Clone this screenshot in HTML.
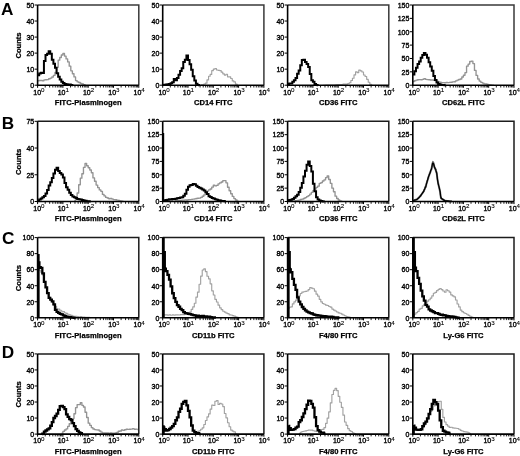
<!DOCTYPE html>
<html><head><meta charset="utf-8"><title>Flow cytometry histograms</title>
<style>html,body{margin:0;padding:0;background:#fff;width:520px;height:456px;overflow:hidden}
svg{display:block;font-family:'Liberation Sans', Arial, Helvetica, sans-serif;fill:#000}
text{fill:#000}
.t{stroke:#000;stroke-width:0.35px}
.b{stroke:#000;stroke-width:0.25px}</style></head>
<body>
<svg width="520" height="456" viewBox="0 0 520 456">
<rect width="520" height="456" fill="#fff"/>
<g><path d="M37.60,5.00 H138.80 V85.20" fill="none" stroke="#3a3a3a" stroke-width="1.5"/><path d="M37.60,80.76 L39.18,80.76 L39.18,80.53 L40.76,80.53 L40.76,80.50 L42.34,80.50 L42.34,80.74 L43.93,80.74 L43.93,79.89 L45.51,79.89 L45.51,79.70 L47.09,79.70 L47.09,79.58 L48.67,79.58 L48.67,78.70 L50.25,78.70 L50.25,78.08 L51.83,78.08 L51.83,76.99 L53.41,76.99 L53.41,75.43 L54.99,75.43 L54.99,72.49 L56.58,72.49 L56.58,67.32 L58.16,67.32 L58.16,60.16 L59.74,60.16 L59.74,57.45 L61.32,57.45 L61.32,54.99 L62.90,54.99 L62.90,53.51 L64.48,53.51 L64.48,56.12 L66.06,56.12 L66.06,58.92 L67.64,58.92 L67.64,61.91 L69.22,61.91 L69.22,66.19 L70.81,66.19 L70.81,70.82 L72.39,70.82 L72.39,73.79 L73.97,73.79 L73.97,76.89 L75.55,76.89 L75.55,80.62 L77.13,80.62 L77.13,81.84 L78.71,81.84 L78.71,82.48 L80.29,82.48 L80.29,83.39 L81.88,83.39 L81.88,84.01 L83.46,84.01 L83.46,84.66 L85.04,84.66 L85.04,85.00 L85.67,85.00" fill="none" stroke="#939393" stroke-width="1.35" stroke-linejoin="round"/><path d="M37.60,75.32 L39.18,75.32 L39.18,73.47 L40.76,73.47 L40.76,72.67 L42.34,72.67 L42.34,72.90 L43.93,72.90 L43.93,60.94 L45.51,60.94 L45.51,55.03 L47.09,55.03 L47.09,53.70 L48.67,53.70 L48.67,51.15 L50.25,51.15 L50.25,53.68 L51.83,53.68 L51.83,59.83 L53.41,59.83 L53.41,63.87 L54.99,63.87 L54.99,67.80 L56.58,67.80 L56.58,73.24 L58.16,73.24 L58.16,76.71 L59.74,76.71 L59.74,79.38 L61.32,79.38 L61.32,81.82 L62.90,81.82 L62.90,82.94 L64.48,82.94 L64.48,83.88 L66.06,83.88 L66.06,84.16 L67.64,84.16 L67.64,84.52 L69.22,84.52 L69.22,84.56 L70.81,84.56 L70.81,84.91 L72.39,84.91 L72.39,85.13 L73.02,85.13" fill="none" stroke="#000" stroke-width="2.0" stroke-linejoin="miter" stroke-miterlimit="2"/><path d="M37.60,5.00 V85.20 H138.80" fill="none" stroke="#000" stroke-width="1.6"/><line x1="34.60" y1="85.20" x2="37.60" y2="85.20" stroke="#000" stroke-width="1"/><text class="t" x="34.20" y="88.00" font-size="7" text-anchor="end">0</text><line x1="34.60" y1="69.16" x2="37.60" y2="69.16" stroke="#000" stroke-width="1"/><text class="t" x="34.20" y="71.96" font-size="7" text-anchor="end">10</text><line x1="34.60" y1="53.12" x2="37.60" y2="53.12" stroke="#000" stroke-width="1"/><text class="t" x="34.20" y="55.92" font-size="7" text-anchor="end">20</text><line x1="34.60" y1="37.08" x2="37.60" y2="37.08" stroke="#000" stroke-width="1"/><text class="t" x="34.20" y="39.88" font-size="7" text-anchor="end">30</text><line x1="34.60" y1="21.04" x2="37.60" y2="21.04" stroke="#000" stroke-width="1"/><text class="t" x="34.20" y="23.84" font-size="7" text-anchor="end">40</text><line x1="34.60" y1="5.00" x2="37.60" y2="5.00" stroke="#000" stroke-width="1"/><text class="t" x="34.20" y="7.80" font-size="7" text-anchor="end">50</text><line x1="37.60" y1="85.20" x2="37.60" y2="87.80" stroke="#000" stroke-width="1"/><text class="t" x="38.90" y="94.50" font-size="7" text-anchor="middle">10<tspan font-size="6.2" dy="-2.6" style="stroke-width:0.1px">0</tspan></text><line x1="45.22" y1="85.20" x2="45.22" y2="87.50" stroke="#000" stroke-width="0.9"/><line x1="49.67" y1="85.20" x2="49.67" y2="87.50" stroke="#000" stroke-width="0.9"/><line x1="52.83" y1="85.20" x2="52.83" y2="87.50" stroke="#000" stroke-width="0.9"/><line x1="55.28" y1="85.20" x2="55.28" y2="87.50" stroke="#000" stroke-width="0.9"/><line x1="57.29" y1="85.20" x2="57.29" y2="87.50" stroke="#000" stroke-width="0.9"/><line x1="58.98" y1="85.20" x2="58.98" y2="87.50" stroke="#000" stroke-width="0.9"/><line x1="60.45" y1="85.20" x2="60.45" y2="87.50" stroke="#000" stroke-width="0.9"/><line x1="61.74" y1="85.20" x2="61.74" y2="87.50" stroke="#000" stroke-width="0.9"/><line x1="62.90" y1="85.20" x2="62.90" y2="87.80" stroke="#000" stroke-width="1"/><text class="t" x="63.30" y="94.50" font-size="7" text-anchor="middle">10<tspan font-size="6.2" dy="-2.6" style="stroke-width:0.1px">1</tspan></text><line x1="70.52" y1="85.20" x2="70.52" y2="87.50" stroke="#000" stroke-width="0.9"/><line x1="74.97" y1="85.20" x2="74.97" y2="87.50" stroke="#000" stroke-width="0.9"/><line x1="78.13" y1="85.20" x2="78.13" y2="87.50" stroke="#000" stroke-width="0.9"/><line x1="80.58" y1="85.20" x2="80.58" y2="87.50" stroke="#000" stroke-width="0.9"/><line x1="82.59" y1="85.20" x2="82.59" y2="87.50" stroke="#000" stroke-width="0.9"/><line x1="84.28" y1="85.20" x2="84.28" y2="87.50" stroke="#000" stroke-width="0.9"/><line x1="85.75" y1="85.20" x2="85.75" y2="87.50" stroke="#000" stroke-width="0.9"/><line x1="87.04" y1="85.20" x2="87.04" y2="87.50" stroke="#000" stroke-width="0.9"/><line x1="88.20" y1="85.20" x2="88.20" y2="87.80" stroke="#000" stroke-width="1"/><text class="t" x="88.60" y="94.50" font-size="7" text-anchor="middle">10<tspan font-size="6.2" dy="-2.6" style="stroke-width:0.1px">2</tspan></text><line x1="95.82" y1="85.20" x2="95.82" y2="87.50" stroke="#000" stroke-width="0.9"/><line x1="100.27" y1="85.20" x2="100.27" y2="87.50" stroke="#000" stroke-width="0.9"/><line x1="103.43" y1="85.20" x2="103.43" y2="87.50" stroke="#000" stroke-width="0.9"/><line x1="105.88" y1="85.20" x2="105.88" y2="87.50" stroke="#000" stroke-width="0.9"/><line x1="107.89" y1="85.20" x2="107.89" y2="87.50" stroke="#000" stroke-width="0.9"/><line x1="109.58" y1="85.20" x2="109.58" y2="87.50" stroke="#000" stroke-width="0.9"/><line x1="111.05" y1="85.20" x2="111.05" y2="87.50" stroke="#000" stroke-width="0.9"/><line x1="112.34" y1="85.20" x2="112.34" y2="87.50" stroke="#000" stroke-width="0.9"/><line x1="113.50" y1="85.20" x2="113.50" y2="87.80" stroke="#000" stroke-width="1"/><text class="t" x="113.90" y="94.50" font-size="7" text-anchor="middle">10<tspan font-size="6.2" dy="-2.6" style="stroke-width:0.1px">3</tspan></text><line x1="121.12" y1="85.20" x2="121.12" y2="87.50" stroke="#000" stroke-width="0.9"/><line x1="125.57" y1="85.20" x2="125.57" y2="87.50" stroke="#000" stroke-width="0.9"/><line x1="128.73" y1="85.20" x2="128.73" y2="87.50" stroke="#000" stroke-width="0.9"/><line x1="131.18" y1="85.20" x2="131.18" y2="87.50" stroke="#000" stroke-width="0.9"/><line x1="133.19" y1="85.20" x2="133.19" y2="87.50" stroke="#000" stroke-width="0.9"/><line x1="134.88" y1="85.20" x2="134.88" y2="87.50" stroke="#000" stroke-width="0.9"/><line x1="136.35" y1="85.20" x2="136.35" y2="87.50" stroke="#000" stroke-width="0.9"/><line x1="137.64" y1="85.20" x2="137.64" y2="87.50" stroke="#000" stroke-width="0.9"/><line x1="138.80" y1="85.20" x2="138.80" y2="87.80" stroke="#000" stroke-width="1"/><text class="t" x="139.20" y="94.50" font-size="7" text-anchor="middle">10<tspan font-size="6.2" dy="-2.6" style="stroke-width:0.1px">4</tspan></text><text x="88.20" y="104.90" class="b" font-size="7.6" font-weight="bold" text-anchor="middle">FITC-Plasminogen</text><text transform="translate(21.2,45.50) rotate(-90)" class="b" font-size="7.6" font-weight="bold" text-anchor="middle">Counts</text></g>
<g><path d="M162.70,5.00 H263.90 V85.20" fill="none" stroke="#3a3a3a" stroke-width="1.5"/><path d="M200.65,84.87 L202.23,84.87 L202.23,84.79 L203.81,84.79 L203.81,84.04 L205.39,84.04 L205.39,83.17 L206.97,83.17 L206.97,79.82 L208.56,79.82 L208.56,76.29 L210.14,76.29 L210.14,74.41 L211.72,74.41 L211.72,70.64 L213.30,70.64 L213.30,69.13 L214.88,69.13 L214.88,68.49 L216.46,68.49 L216.46,70.01 L218.04,70.01 L218.04,70.30 L219.62,70.30 L219.62,70.59 L221.21,70.59 L221.21,72.17 L222.79,72.17 L222.79,73.85 L224.37,73.85 L224.37,75.08 L225.95,75.08 L225.95,74.27 L227.53,74.27 L227.53,76.81 L229.11,76.81 L229.11,76.88 L230.69,76.88 L230.69,78.51 L232.27,78.51 L232.27,80.90 L233.86,80.90 L233.86,81.94 L235.44,81.94 L235.44,84.15 L237.02,84.15 L237.02,85.10 L237.84,85.10" fill="none" stroke="#a2a2a2" stroke-width="1.15" stroke-linejoin="round"/><path d="M162.70,84.91 L164.28,84.91 L164.28,84.76 L165.86,84.76 L165.86,84.39 L167.44,84.39 L167.44,84.23 L169.02,84.23 L169.02,84.10 L170.61,84.10 L170.61,83.24 L172.19,83.24 L172.19,82.37 L173.77,82.37 L173.77,78.94 L175.35,78.94 L175.35,80.17 L176.93,80.17 L176.93,78.03 L178.51,78.03 L178.51,74.83 L180.09,74.83 L180.09,70.93 L181.67,70.93 L181.67,68.28 L183.26,68.28 L183.26,61.89 L184.84,61.89 L184.84,59.63 L186.42,59.63 L186.42,55.46 L188.00,55.46 L188.00,60.06 L189.58,60.06 L189.58,64.14 L191.16,64.14 L191.16,69.69 L192.74,69.69 L192.74,76.13 L194.32,76.13 L194.32,80.49 L195.91,80.49 L195.91,83.83 L197.49,83.83 L197.49,84.99 L199.07,84.99 L199.07,85.20 L199.38,85.20" fill="none" stroke="#000" stroke-width="2.0" stroke-linejoin="miter" stroke-miterlimit="2"/><path d="M162.70,5.00 V85.20 H263.90" fill="none" stroke="#000" stroke-width="1.6"/><line x1="159.70" y1="85.20" x2="162.70" y2="85.20" stroke="#000" stroke-width="1"/><text class="t" x="159.30" y="88.00" font-size="7" text-anchor="end">0</text><line x1="159.70" y1="69.16" x2="162.70" y2="69.16" stroke="#000" stroke-width="1"/><text class="t" x="159.30" y="71.96" font-size="7" text-anchor="end">10</text><line x1="159.70" y1="53.12" x2="162.70" y2="53.12" stroke="#000" stroke-width="1"/><text class="t" x="159.30" y="55.92" font-size="7" text-anchor="end">20</text><line x1="159.70" y1="37.08" x2="162.70" y2="37.08" stroke="#000" stroke-width="1"/><text class="t" x="159.30" y="39.88" font-size="7" text-anchor="end">30</text><line x1="159.70" y1="21.04" x2="162.70" y2="21.04" stroke="#000" stroke-width="1"/><text class="t" x="159.30" y="23.84" font-size="7" text-anchor="end">40</text><line x1="159.70" y1="5.00" x2="162.70" y2="5.00" stroke="#000" stroke-width="1"/><text class="t" x="159.30" y="7.80" font-size="7" text-anchor="end">50</text><line x1="162.70" y1="85.20" x2="162.70" y2="87.80" stroke="#000" stroke-width="1"/><text class="t" x="164.00" y="94.50" font-size="7" text-anchor="middle">10<tspan font-size="6.2" dy="-2.6" style="stroke-width:0.1px">0</tspan></text><line x1="170.32" y1="85.20" x2="170.32" y2="87.50" stroke="#000" stroke-width="0.9"/><line x1="174.77" y1="85.20" x2="174.77" y2="87.50" stroke="#000" stroke-width="0.9"/><line x1="177.93" y1="85.20" x2="177.93" y2="87.50" stroke="#000" stroke-width="0.9"/><line x1="180.38" y1="85.20" x2="180.38" y2="87.50" stroke="#000" stroke-width="0.9"/><line x1="182.39" y1="85.20" x2="182.39" y2="87.50" stroke="#000" stroke-width="0.9"/><line x1="184.08" y1="85.20" x2="184.08" y2="87.50" stroke="#000" stroke-width="0.9"/><line x1="185.55" y1="85.20" x2="185.55" y2="87.50" stroke="#000" stroke-width="0.9"/><line x1="186.84" y1="85.20" x2="186.84" y2="87.50" stroke="#000" stroke-width="0.9"/><line x1="188.00" y1="85.20" x2="188.00" y2="87.80" stroke="#000" stroke-width="1"/><text class="t" x="188.40" y="94.50" font-size="7" text-anchor="middle">10<tspan font-size="6.2" dy="-2.6" style="stroke-width:0.1px">1</tspan></text><line x1="195.62" y1="85.20" x2="195.62" y2="87.50" stroke="#000" stroke-width="0.9"/><line x1="200.07" y1="85.20" x2="200.07" y2="87.50" stroke="#000" stroke-width="0.9"/><line x1="203.23" y1="85.20" x2="203.23" y2="87.50" stroke="#000" stroke-width="0.9"/><line x1="205.68" y1="85.20" x2="205.68" y2="87.50" stroke="#000" stroke-width="0.9"/><line x1="207.69" y1="85.20" x2="207.69" y2="87.50" stroke="#000" stroke-width="0.9"/><line x1="209.38" y1="85.20" x2="209.38" y2="87.50" stroke="#000" stroke-width="0.9"/><line x1="210.85" y1="85.20" x2="210.85" y2="87.50" stroke="#000" stroke-width="0.9"/><line x1="212.14" y1="85.20" x2="212.14" y2="87.50" stroke="#000" stroke-width="0.9"/><line x1="213.30" y1="85.20" x2="213.30" y2="87.80" stroke="#000" stroke-width="1"/><text class="t" x="213.70" y="94.50" font-size="7" text-anchor="middle">10<tspan font-size="6.2" dy="-2.6" style="stroke-width:0.1px">2</tspan></text><line x1="220.92" y1="85.20" x2="220.92" y2="87.50" stroke="#000" stroke-width="0.9"/><line x1="225.37" y1="85.20" x2="225.37" y2="87.50" stroke="#000" stroke-width="0.9"/><line x1="228.53" y1="85.20" x2="228.53" y2="87.50" stroke="#000" stroke-width="0.9"/><line x1="230.98" y1="85.20" x2="230.98" y2="87.50" stroke="#000" stroke-width="0.9"/><line x1="232.99" y1="85.20" x2="232.99" y2="87.50" stroke="#000" stroke-width="0.9"/><line x1="234.68" y1="85.20" x2="234.68" y2="87.50" stroke="#000" stroke-width="0.9"/><line x1="236.15" y1="85.20" x2="236.15" y2="87.50" stroke="#000" stroke-width="0.9"/><line x1="237.44" y1="85.20" x2="237.44" y2="87.50" stroke="#000" stroke-width="0.9"/><line x1="238.60" y1="85.20" x2="238.60" y2="87.80" stroke="#000" stroke-width="1"/><text class="t" x="239.00" y="94.50" font-size="7" text-anchor="middle">10<tspan font-size="6.2" dy="-2.6" style="stroke-width:0.1px">3</tspan></text><line x1="246.22" y1="85.20" x2="246.22" y2="87.50" stroke="#000" stroke-width="0.9"/><line x1="250.67" y1="85.20" x2="250.67" y2="87.50" stroke="#000" stroke-width="0.9"/><line x1="253.83" y1="85.20" x2="253.83" y2="87.50" stroke="#000" stroke-width="0.9"/><line x1="256.28" y1="85.20" x2="256.28" y2="87.50" stroke="#000" stroke-width="0.9"/><line x1="258.29" y1="85.20" x2="258.29" y2="87.50" stroke="#000" stroke-width="0.9"/><line x1="259.98" y1="85.20" x2="259.98" y2="87.50" stroke="#000" stroke-width="0.9"/><line x1="261.45" y1="85.20" x2="261.45" y2="87.50" stroke="#000" stroke-width="0.9"/><line x1="262.74" y1="85.20" x2="262.74" y2="87.50" stroke="#000" stroke-width="0.9"/><line x1="263.90" y1="85.20" x2="263.90" y2="87.80" stroke="#000" stroke-width="1"/><text class="t" x="264.30" y="94.50" font-size="7" text-anchor="middle">10<tspan font-size="6.2" dy="-2.6" style="stroke-width:0.1px">4</tspan></text><text x="213.30" y="104.90" class="b" font-size="7.6" font-weight="bold" text-anchor="middle">CD14 FITC</text></g>
<g><path d="M287.60,5.00 H388.80 V85.20" fill="none" stroke="#3a3a3a" stroke-width="1.5"/><path d="M323.02,85.20 L323.97,85.20 L323.97,85.20 L325.55,85.20 L325.55,85.16 L327.13,85.16 L327.13,85.10 L328.71,85.10 L328.71,85.02 L330.29,85.02 L330.29,85.01 L331.88,85.01 L331.88,85.00 L333.46,85.00 L333.46,84.96 L335.04,84.96 L335.04,84.79 L336.62,84.79 L336.62,84.63 L338.20,84.63 L338.20,84.65 L339.78,84.65 L339.78,84.69 L341.36,84.69 L341.36,84.55 L342.94,84.55 L342.94,84.10 L344.53,84.10 L344.53,84.08 L346.11,84.08 L346.11,84.11 L347.69,84.11 L347.69,83.48 L349.27,83.48 L349.27,82.72 L350.85,82.72 L350.85,80.52 L352.43,80.52 L352.43,78.26 L354.01,78.26 L354.01,74.88 L355.59,74.88 L355.59,71.85 L357.18,71.85 L357.18,72.60 L358.76,72.60 L358.76,70.18 L360.34,70.18 L360.34,70.80 L361.92,70.80 L361.92,71.97 L363.50,71.97 L363.50,75.00 L365.08,75.00 L365.08,76.53 L366.66,76.53 L366.66,79.35 L368.24,79.35 L368.24,82.27 L369.83,82.27 L369.83,84.37 L371.41,84.37 L371.41,85.01 L372.36,85.01" fill="none" stroke="#a2a2a2" stroke-width="1.15" stroke-linejoin="round"/><path d="M287.60,84.07 L289.18,84.07 L289.18,83.49 L290.76,83.49 L290.76,83.62 L292.34,83.62 L292.34,81.74 L293.93,81.74 L293.93,80.26 L295.51,80.26 L295.51,78.02 L297.09,78.02 L297.09,73.83 L298.67,73.83 L298.67,70.46 L300.25,70.46 L300.25,65.13 L301.83,65.13 L301.83,60.05 L303.41,60.05 L303.41,59.69 L304.99,59.69 L304.99,61.88 L306.58,61.88 L306.58,63.98 L308.16,63.98 L308.16,67.04 L309.74,67.04 L309.74,74.05 L311.32,74.05 L311.32,80.26 L312.90,80.26 L312.90,81.69 L314.48,81.69 L314.48,83.92 L316.06,83.92 L316.06,84.93 L317.64,84.93 L317.64,85.15 L317.96,85.15" fill="none" stroke="#000" stroke-width="2.0" stroke-linejoin="miter" stroke-miterlimit="2"/><path d="M287.60,5.00 V85.20 H388.80" fill="none" stroke="#000" stroke-width="1.6"/><line x1="284.60" y1="85.20" x2="287.60" y2="85.20" stroke="#000" stroke-width="1"/><text class="t" x="284.20" y="88.00" font-size="7" text-anchor="end">0</text><line x1="284.60" y1="69.16" x2="287.60" y2="69.16" stroke="#000" stroke-width="1"/><text class="t" x="284.20" y="71.96" font-size="7" text-anchor="end">10</text><line x1="284.60" y1="53.12" x2="287.60" y2="53.12" stroke="#000" stroke-width="1"/><text class="t" x="284.20" y="55.92" font-size="7" text-anchor="end">20</text><line x1="284.60" y1="37.08" x2="287.60" y2="37.08" stroke="#000" stroke-width="1"/><text class="t" x="284.20" y="39.88" font-size="7" text-anchor="end">30</text><line x1="284.60" y1="21.04" x2="287.60" y2="21.04" stroke="#000" stroke-width="1"/><text class="t" x="284.20" y="23.84" font-size="7" text-anchor="end">40</text><line x1="284.60" y1="5.00" x2="287.60" y2="5.00" stroke="#000" stroke-width="1"/><text class="t" x="284.20" y="7.80" font-size="7" text-anchor="end">50</text><line x1="287.60" y1="85.20" x2="287.60" y2="87.80" stroke="#000" stroke-width="1"/><text class="t" x="288.90" y="94.50" font-size="7" text-anchor="middle">10<tspan font-size="6.2" dy="-2.6" style="stroke-width:0.1px">0</tspan></text><line x1="295.22" y1="85.20" x2="295.22" y2="87.50" stroke="#000" stroke-width="0.9"/><line x1="299.67" y1="85.20" x2="299.67" y2="87.50" stroke="#000" stroke-width="0.9"/><line x1="302.83" y1="85.20" x2="302.83" y2="87.50" stroke="#000" stroke-width="0.9"/><line x1="305.28" y1="85.20" x2="305.28" y2="87.50" stroke="#000" stroke-width="0.9"/><line x1="307.29" y1="85.20" x2="307.29" y2="87.50" stroke="#000" stroke-width="0.9"/><line x1="308.98" y1="85.20" x2="308.98" y2="87.50" stroke="#000" stroke-width="0.9"/><line x1="310.45" y1="85.20" x2="310.45" y2="87.50" stroke="#000" stroke-width="0.9"/><line x1="311.74" y1="85.20" x2="311.74" y2="87.50" stroke="#000" stroke-width="0.9"/><line x1="312.90" y1="85.20" x2="312.90" y2="87.80" stroke="#000" stroke-width="1"/><text class="t" x="313.30" y="94.50" font-size="7" text-anchor="middle">10<tspan font-size="6.2" dy="-2.6" style="stroke-width:0.1px">1</tspan></text><line x1="320.52" y1="85.20" x2="320.52" y2="87.50" stroke="#000" stroke-width="0.9"/><line x1="324.97" y1="85.20" x2="324.97" y2="87.50" stroke="#000" stroke-width="0.9"/><line x1="328.13" y1="85.20" x2="328.13" y2="87.50" stroke="#000" stroke-width="0.9"/><line x1="330.58" y1="85.20" x2="330.58" y2="87.50" stroke="#000" stroke-width="0.9"/><line x1="332.59" y1="85.20" x2="332.59" y2="87.50" stroke="#000" stroke-width="0.9"/><line x1="334.28" y1="85.20" x2="334.28" y2="87.50" stroke="#000" stroke-width="0.9"/><line x1="335.75" y1="85.20" x2="335.75" y2="87.50" stroke="#000" stroke-width="0.9"/><line x1="337.04" y1="85.20" x2="337.04" y2="87.50" stroke="#000" stroke-width="0.9"/><line x1="338.20" y1="85.20" x2="338.20" y2="87.80" stroke="#000" stroke-width="1"/><text class="t" x="338.60" y="94.50" font-size="7" text-anchor="middle">10<tspan font-size="6.2" dy="-2.6" style="stroke-width:0.1px">2</tspan></text><line x1="345.82" y1="85.20" x2="345.82" y2="87.50" stroke="#000" stroke-width="0.9"/><line x1="350.27" y1="85.20" x2="350.27" y2="87.50" stroke="#000" stroke-width="0.9"/><line x1="353.43" y1="85.20" x2="353.43" y2="87.50" stroke="#000" stroke-width="0.9"/><line x1="355.88" y1="85.20" x2="355.88" y2="87.50" stroke="#000" stroke-width="0.9"/><line x1="357.89" y1="85.20" x2="357.89" y2="87.50" stroke="#000" stroke-width="0.9"/><line x1="359.58" y1="85.20" x2="359.58" y2="87.50" stroke="#000" stroke-width="0.9"/><line x1="361.05" y1="85.20" x2="361.05" y2="87.50" stroke="#000" stroke-width="0.9"/><line x1="362.34" y1="85.20" x2="362.34" y2="87.50" stroke="#000" stroke-width="0.9"/><line x1="363.50" y1="85.20" x2="363.50" y2="87.80" stroke="#000" stroke-width="1"/><text class="t" x="363.90" y="94.50" font-size="7" text-anchor="middle">10<tspan font-size="6.2" dy="-2.6" style="stroke-width:0.1px">3</tspan></text><line x1="371.12" y1="85.20" x2="371.12" y2="87.50" stroke="#000" stroke-width="0.9"/><line x1="375.57" y1="85.20" x2="375.57" y2="87.50" stroke="#000" stroke-width="0.9"/><line x1="378.73" y1="85.20" x2="378.73" y2="87.50" stroke="#000" stroke-width="0.9"/><line x1="381.18" y1="85.20" x2="381.18" y2="87.50" stroke="#000" stroke-width="0.9"/><line x1="383.19" y1="85.20" x2="383.19" y2="87.50" stroke="#000" stroke-width="0.9"/><line x1="384.88" y1="85.20" x2="384.88" y2="87.50" stroke="#000" stroke-width="0.9"/><line x1="386.35" y1="85.20" x2="386.35" y2="87.50" stroke="#000" stroke-width="0.9"/><line x1="387.64" y1="85.20" x2="387.64" y2="87.50" stroke="#000" stroke-width="0.9"/><line x1="388.80" y1="85.20" x2="388.80" y2="87.80" stroke="#000" stroke-width="1"/><text class="t" x="389.20" y="94.50" font-size="7" text-anchor="middle">10<tspan font-size="6.2" dy="-2.6" style="stroke-width:0.1px">4</tspan></text><text x="338.20" y="104.90" class="b" font-size="7.6" font-weight="bold" text-anchor="middle">CD36 FITC</text></g>
<g><path d="M412.80,5.00 H514.00 V85.20" fill="none" stroke="#3a3a3a" stroke-width="1.5"/><path d="M412.80,81.55 L414.38,81.55 L414.38,80.72 L415.96,80.72 L415.96,80.16 L417.54,80.16 L417.54,79.74 L419.12,79.74 L419.12,79.61 L420.71,79.61 L420.71,79.71 L422.29,79.71 L422.29,79.32 L423.87,79.32 L423.87,78.75 L425.45,78.75 L425.45,79.30 L427.03,79.30 L427.03,79.66 L428.61,79.66 L428.61,79.78 L430.19,79.78 L430.19,79.95 L431.78,79.95 L431.78,80.00 L433.36,80.00 L433.36,80.23 L434.94,80.23 L434.94,80.65 L436.52,80.65 L436.52,81.13 L438.10,81.13 L438.10,81.99 L439.68,81.99 L439.68,82.21 L441.26,82.21 L441.26,82.62 L442.84,82.62 L442.84,82.63 L444.43,82.63 L444.43,82.70 L446.01,82.70 L446.01,82.50 L447.59,82.50 L447.59,82.61 L449.17,82.61 L449.17,82.35 L450.75,82.35 L450.75,82.24 L452.33,82.24 L452.33,81.92 L453.91,81.92 L453.91,81.73 L455.49,81.73 L455.49,80.80 L457.07,80.80 L457.07,80.09 L458.66,80.09 L458.66,79.48 L460.24,79.48 L460.24,78.98 L461.82,78.98 L461.82,77.04 L463.40,77.04 L463.40,75.29 L464.98,75.29 L464.98,72.64 L466.56,72.64 L466.56,66.15 L468.14,66.15 L468.14,64.06 L469.73,64.06 L469.73,61.45 L471.31,61.45 L471.31,61.06 L472.89,61.06 L472.89,63.60 L474.47,63.60 L474.47,70.41 L476.05,70.41 L476.05,75.41 L477.63,75.41 L477.63,79.03 L479.21,79.03 L479.21,81.11 L480.79,81.11 L480.79,82.31 L482.38,82.31 L482.38,83.05 L483.96,83.05 L483.96,83.88 L485.54,83.88 L485.54,84.04 L487.12,84.04 L487.12,84.36 L488.70,84.36 L488.70,84.68 L490.28,84.68 L490.28,84.83 L491.86,84.83 L491.86,85.08 L493.44,85.08 L493.44,85.20 L493.76,85.20" fill="none" stroke="#939393" stroke-width="1.35" stroke-linejoin="round"/><path d="M412.80,74.51 L414.38,74.51 L414.38,71.26 L415.96,71.26 L415.96,67.81 L417.54,67.81 L417.54,64.01 L419.12,64.01 L419.12,61.51 L420.71,61.51 L420.71,57.65 L422.29,57.65 L422.29,55.08 L423.87,55.08 L423.87,53.02 L425.45,53.02 L425.45,54.69 L427.03,54.69 L427.03,57.71 L428.61,57.71 L428.61,62.23 L430.19,62.23 L430.19,66.61 L431.78,66.61 L431.78,70.67 L433.36,70.67 L433.36,75.94 L434.94,75.94 L434.94,80.00 L436.52,80.00 L436.52,82.54 L438.10,82.54 L438.10,84.11 L439.68,84.11 L439.68,84.57 L441.26,84.57 L441.26,84.90 L442.84,84.90 L442.84,85.05 L444.43,85.05 L444.43,85.16 L445.69,85.16" fill="none" stroke="#000" stroke-width="2.0" stroke-linejoin="miter" stroke-miterlimit="2"/><path d="M412.80,5.00 V85.20 H514.00" fill="none" stroke="#000" stroke-width="1.6"/><line x1="409.80" y1="85.20" x2="412.80" y2="85.20" stroke="#000" stroke-width="1"/><text class="t" x="409.40" y="88.00" font-size="7" text-anchor="end">0</text><line x1="409.80" y1="71.83" x2="412.80" y2="71.83" stroke="#000" stroke-width="1"/><text class="t" x="409.40" y="74.63" font-size="7" text-anchor="end">25</text><line x1="409.80" y1="58.47" x2="412.80" y2="58.47" stroke="#000" stroke-width="1"/><text class="t" x="409.40" y="61.27" font-size="7" text-anchor="end">50</text><line x1="409.80" y1="45.10" x2="412.80" y2="45.10" stroke="#000" stroke-width="1"/><text class="t" x="409.40" y="47.90" font-size="7" text-anchor="end">75</text><line x1="409.80" y1="31.73" x2="412.80" y2="31.73" stroke="#000" stroke-width="1"/><text class="t" x="409.40" y="34.53" font-size="7" text-anchor="end">100</text><line x1="409.80" y1="18.37" x2="412.80" y2="18.37" stroke="#000" stroke-width="1"/><text class="t" x="409.40" y="21.17" font-size="7" text-anchor="end">125</text><line x1="409.80" y1="5.00" x2="412.80" y2="5.00" stroke="#000" stroke-width="1"/><text class="t" x="409.40" y="7.80" font-size="7" text-anchor="end">150</text><line x1="412.80" y1="85.20" x2="412.80" y2="87.80" stroke="#000" stroke-width="1"/><text class="t" x="414.10" y="94.50" font-size="7" text-anchor="middle">10<tspan font-size="6.2" dy="-2.6" style="stroke-width:0.1px">0</tspan></text><line x1="420.42" y1="85.20" x2="420.42" y2="87.50" stroke="#000" stroke-width="0.9"/><line x1="424.87" y1="85.20" x2="424.87" y2="87.50" stroke="#000" stroke-width="0.9"/><line x1="428.03" y1="85.20" x2="428.03" y2="87.50" stroke="#000" stroke-width="0.9"/><line x1="430.48" y1="85.20" x2="430.48" y2="87.50" stroke="#000" stroke-width="0.9"/><line x1="432.49" y1="85.20" x2="432.49" y2="87.50" stroke="#000" stroke-width="0.9"/><line x1="434.18" y1="85.20" x2="434.18" y2="87.50" stroke="#000" stroke-width="0.9"/><line x1="435.65" y1="85.20" x2="435.65" y2="87.50" stroke="#000" stroke-width="0.9"/><line x1="436.94" y1="85.20" x2="436.94" y2="87.50" stroke="#000" stroke-width="0.9"/><line x1="438.10" y1="85.20" x2="438.10" y2="87.80" stroke="#000" stroke-width="1"/><text class="t" x="438.50" y="94.50" font-size="7" text-anchor="middle">10<tspan font-size="6.2" dy="-2.6" style="stroke-width:0.1px">1</tspan></text><line x1="445.72" y1="85.20" x2="445.72" y2="87.50" stroke="#000" stroke-width="0.9"/><line x1="450.17" y1="85.20" x2="450.17" y2="87.50" stroke="#000" stroke-width="0.9"/><line x1="453.33" y1="85.20" x2="453.33" y2="87.50" stroke="#000" stroke-width="0.9"/><line x1="455.78" y1="85.20" x2="455.78" y2="87.50" stroke="#000" stroke-width="0.9"/><line x1="457.79" y1="85.20" x2="457.79" y2="87.50" stroke="#000" stroke-width="0.9"/><line x1="459.48" y1="85.20" x2="459.48" y2="87.50" stroke="#000" stroke-width="0.9"/><line x1="460.95" y1="85.20" x2="460.95" y2="87.50" stroke="#000" stroke-width="0.9"/><line x1="462.24" y1="85.20" x2="462.24" y2="87.50" stroke="#000" stroke-width="0.9"/><line x1="463.40" y1="85.20" x2="463.40" y2="87.80" stroke="#000" stroke-width="1"/><text class="t" x="463.80" y="94.50" font-size="7" text-anchor="middle">10<tspan font-size="6.2" dy="-2.6" style="stroke-width:0.1px">2</tspan></text><line x1="471.02" y1="85.20" x2="471.02" y2="87.50" stroke="#000" stroke-width="0.9"/><line x1="475.47" y1="85.20" x2="475.47" y2="87.50" stroke="#000" stroke-width="0.9"/><line x1="478.63" y1="85.20" x2="478.63" y2="87.50" stroke="#000" stroke-width="0.9"/><line x1="481.08" y1="85.20" x2="481.08" y2="87.50" stroke="#000" stroke-width="0.9"/><line x1="483.09" y1="85.20" x2="483.09" y2="87.50" stroke="#000" stroke-width="0.9"/><line x1="484.78" y1="85.20" x2="484.78" y2="87.50" stroke="#000" stroke-width="0.9"/><line x1="486.25" y1="85.20" x2="486.25" y2="87.50" stroke="#000" stroke-width="0.9"/><line x1="487.54" y1="85.20" x2="487.54" y2="87.50" stroke="#000" stroke-width="0.9"/><line x1="488.70" y1="85.20" x2="488.70" y2="87.80" stroke="#000" stroke-width="1"/><text class="t" x="489.10" y="94.50" font-size="7" text-anchor="middle">10<tspan font-size="6.2" dy="-2.6" style="stroke-width:0.1px">3</tspan></text><line x1="496.32" y1="85.20" x2="496.32" y2="87.50" stroke="#000" stroke-width="0.9"/><line x1="500.77" y1="85.20" x2="500.77" y2="87.50" stroke="#000" stroke-width="0.9"/><line x1="503.93" y1="85.20" x2="503.93" y2="87.50" stroke="#000" stroke-width="0.9"/><line x1="506.38" y1="85.20" x2="506.38" y2="87.50" stroke="#000" stroke-width="0.9"/><line x1="508.39" y1="85.20" x2="508.39" y2="87.50" stroke="#000" stroke-width="0.9"/><line x1="510.08" y1="85.20" x2="510.08" y2="87.50" stroke="#000" stroke-width="0.9"/><line x1="511.55" y1="85.20" x2="511.55" y2="87.50" stroke="#000" stroke-width="0.9"/><line x1="512.84" y1="85.20" x2="512.84" y2="87.50" stroke="#000" stroke-width="0.9"/><line x1="514.00" y1="85.20" x2="514.00" y2="87.80" stroke="#000" stroke-width="1"/><text class="t" x="514.40" y="94.50" font-size="7" text-anchor="middle">10<tspan font-size="6.2" dy="-2.6" style="stroke-width:0.1px">4</tspan></text><text x="463.40" y="104.90" class="b" font-size="7.6" font-weight="bold" text-anchor="middle">CD62L FITC</text></g>
<text x="1.10" y="15.30" font-size="17.2" font-weight="bold">A</text>
<g><path d="M37.60,121.30 H138.80 V201.50" fill="none" stroke="#1c1c1c" stroke-width="1.5"/><path d="M74.28,200.71 L75.55,200.71 L75.55,197.51 L77.13,197.51 L77.13,192.98 L78.71,192.98 L78.71,184.72 L80.29,184.72 L80.29,178.17 L81.88,178.17 L81.88,173.73 L83.46,173.73 L83.46,167.40 L85.04,167.40 L85.04,163.33 L86.62,163.33 L86.62,165.79 L88.20,165.79 L88.20,167.75 L89.78,167.75 L89.78,170.03 L91.36,170.03 L91.36,172.73 L92.94,172.73 L92.94,177.91 L94.53,177.91 L94.53,181.29 L96.11,181.29 L96.11,185.07 L97.69,185.07 L97.69,187.69 L99.27,187.69 L99.27,189.94 L100.85,189.94 L100.85,191.35 L102.43,191.35 L102.43,194.40 L104.01,194.40 L104.01,195.89 L105.59,195.89 L105.59,197.42 L107.18,197.42 L107.18,197.95 L108.76,197.95 L108.76,198.73 L110.34,198.73 L110.34,198.41 L111.92,198.41 L111.92,199.17 L113.50,199.17 L113.50,199.59 L115.08,199.59 L115.08,199.74 L116.66,199.74 L116.66,200.18 L118.24,200.18 L118.24,200.30 L119.83,200.30 L119.83,200.94 L121.41,200.94 L121.41,201.19 L122.99,201.19 L122.99,201.47 L123.62,201.47" fill="none" stroke="#939393" stroke-width="1.35" stroke-linejoin="round"/><path d="M37.60,200.63 L39.18,200.63 L39.18,199.60 L40.76,199.60 L40.76,198.51 L42.34,198.51 L42.34,197.18 L43.93,197.18 L43.93,195.92 L45.51,195.92 L45.51,193.49 L47.09,193.49 L47.09,189.94 L48.67,189.94 L48.67,185.51 L50.25,185.51 L50.25,182.20 L51.83,182.20 L51.83,177.93 L53.41,177.93 L53.41,173.42 L54.99,173.42 L54.99,169.73 L56.58,169.73 L56.58,167.85 L58.16,167.85 L58.16,170.89 L59.74,170.89 L59.74,172.89 L61.32,172.89 L61.32,174.54 L62.90,174.54 L62.90,177.46 L64.48,177.46 L64.48,182.96 L66.06,182.96 L66.06,187.28 L67.64,187.28 L67.64,189.86 L69.22,189.86 L69.22,192.66 L70.81,192.66 L70.81,195.12 L72.39,195.12 L72.39,196.57 L73.97,196.57 L73.97,197.19 L75.55,197.19 L75.55,197.96 L77.13,197.96 L77.13,198.88 L78.71,198.88 L78.71,199.30 L80.29,199.30 L80.29,199.58 L81.88,199.58 L81.88,199.99 L83.46,199.99 L83.46,200.39 L85.04,200.39 L85.04,200.79 L86.62,200.79 L86.62,201.17 L88.20,201.17 L88.20,201.27 L89.78,201.27 L89.78,201.45 L90.73,201.45" fill="none" stroke="#000" stroke-width="2.0" stroke-linejoin="miter" stroke-miterlimit="2"/><path d="M37.60,121.30 V201.50 H138.80" fill="none" stroke="#000" stroke-width="1.6"/><line x1="34.60" y1="201.50" x2="37.60" y2="201.50" stroke="#000" stroke-width="1"/><text class="t" x="34.20" y="204.30" font-size="7" text-anchor="end">0</text><line x1="34.60" y1="174.77" x2="37.60" y2="174.77" stroke="#000" stroke-width="1"/><text class="t" x="34.20" y="177.57" font-size="7" text-anchor="end">25</text><line x1="34.60" y1="148.03" x2="37.60" y2="148.03" stroke="#000" stroke-width="1"/><text class="t" x="34.20" y="150.83" font-size="7" text-anchor="end">40</text><line x1="34.60" y1="121.30" x2="37.60" y2="121.30" stroke="#000" stroke-width="1"/><text class="t" x="34.20" y="124.10" font-size="7" text-anchor="end">75</text><line x1="37.60" y1="201.50" x2="37.60" y2="204.10" stroke="#000" stroke-width="1"/><text class="t" x="38.90" y="210.80" font-size="7" text-anchor="middle">10<tspan font-size="6.2" dy="-2.6" style="stroke-width:0.1px">0</tspan></text><line x1="45.22" y1="201.50" x2="45.22" y2="203.80" stroke="#000" stroke-width="0.9"/><line x1="49.67" y1="201.50" x2="49.67" y2="203.80" stroke="#000" stroke-width="0.9"/><line x1="52.83" y1="201.50" x2="52.83" y2="203.80" stroke="#000" stroke-width="0.9"/><line x1="55.28" y1="201.50" x2="55.28" y2="203.80" stroke="#000" stroke-width="0.9"/><line x1="57.29" y1="201.50" x2="57.29" y2="203.80" stroke="#000" stroke-width="0.9"/><line x1="58.98" y1="201.50" x2="58.98" y2="203.80" stroke="#000" stroke-width="0.9"/><line x1="60.45" y1="201.50" x2="60.45" y2="203.80" stroke="#000" stroke-width="0.9"/><line x1="61.74" y1="201.50" x2="61.74" y2="203.80" stroke="#000" stroke-width="0.9"/><line x1="62.90" y1="201.50" x2="62.90" y2="204.10" stroke="#000" stroke-width="1"/><text class="t" x="63.30" y="210.80" font-size="7" text-anchor="middle">10<tspan font-size="6.2" dy="-2.6" style="stroke-width:0.1px">1</tspan></text><line x1="70.52" y1="201.50" x2="70.52" y2="203.80" stroke="#000" stroke-width="0.9"/><line x1="74.97" y1="201.50" x2="74.97" y2="203.80" stroke="#000" stroke-width="0.9"/><line x1="78.13" y1="201.50" x2="78.13" y2="203.80" stroke="#000" stroke-width="0.9"/><line x1="80.58" y1="201.50" x2="80.58" y2="203.80" stroke="#000" stroke-width="0.9"/><line x1="82.59" y1="201.50" x2="82.59" y2="203.80" stroke="#000" stroke-width="0.9"/><line x1="84.28" y1="201.50" x2="84.28" y2="203.80" stroke="#000" stroke-width="0.9"/><line x1="85.75" y1="201.50" x2="85.75" y2="203.80" stroke="#000" stroke-width="0.9"/><line x1="87.04" y1="201.50" x2="87.04" y2="203.80" stroke="#000" stroke-width="0.9"/><line x1="88.20" y1="201.50" x2="88.20" y2="204.10" stroke="#000" stroke-width="1"/><text class="t" x="88.60" y="210.80" font-size="7" text-anchor="middle">10<tspan font-size="6.2" dy="-2.6" style="stroke-width:0.1px">2</tspan></text><line x1="95.82" y1="201.50" x2="95.82" y2="203.80" stroke="#000" stroke-width="0.9"/><line x1="100.27" y1="201.50" x2="100.27" y2="203.80" stroke="#000" stroke-width="0.9"/><line x1="103.43" y1="201.50" x2="103.43" y2="203.80" stroke="#000" stroke-width="0.9"/><line x1="105.88" y1="201.50" x2="105.88" y2="203.80" stroke="#000" stroke-width="0.9"/><line x1="107.89" y1="201.50" x2="107.89" y2="203.80" stroke="#000" stroke-width="0.9"/><line x1="109.58" y1="201.50" x2="109.58" y2="203.80" stroke="#000" stroke-width="0.9"/><line x1="111.05" y1="201.50" x2="111.05" y2="203.80" stroke="#000" stroke-width="0.9"/><line x1="112.34" y1="201.50" x2="112.34" y2="203.80" stroke="#000" stroke-width="0.9"/><line x1="113.50" y1="201.50" x2="113.50" y2="204.10" stroke="#000" stroke-width="1"/><text class="t" x="113.90" y="210.80" font-size="7" text-anchor="middle">10<tspan font-size="6.2" dy="-2.6" style="stroke-width:0.1px">3</tspan></text><line x1="121.12" y1="201.50" x2="121.12" y2="203.80" stroke="#000" stroke-width="0.9"/><line x1="125.57" y1="201.50" x2="125.57" y2="203.80" stroke="#000" stroke-width="0.9"/><line x1="128.73" y1="201.50" x2="128.73" y2="203.80" stroke="#000" stroke-width="0.9"/><line x1="131.18" y1="201.50" x2="131.18" y2="203.80" stroke="#000" stroke-width="0.9"/><line x1="133.19" y1="201.50" x2="133.19" y2="203.80" stroke="#000" stroke-width="0.9"/><line x1="134.88" y1="201.50" x2="134.88" y2="203.80" stroke="#000" stroke-width="0.9"/><line x1="136.35" y1="201.50" x2="136.35" y2="203.80" stroke="#000" stroke-width="0.9"/><line x1="137.64" y1="201.50" x2="137.64" y2="203.80" stroke="#000" stroke-width="0.9"/><line x1="138.80" y1="201.50" x2="138.80" y2="204.10" stroke="#000" stroke-width="1"/><text class="t" x="139.20" y="210.80" font-size="7" text-anchor="middle">10<tspan font-size="6.2" dy="-2.6" style="stroke-width:0.1px">4</tspan></text><text x="88.20" y="221.20" class="b" font-size="7.6" font-weight="bold" text-anchor="middle">FITC-Plasminogen</text><text transform="translate(21.2,161.80) rotate(-90)" class="b" font-size="7.6" font-weight="bold" text-anchor="middle">Counts</text></g>
<g><path d="M162.70,121.30 H263.90 V201.50" fill="none" stroke="#1c1c1c" stroke-width="1.5"/><path d="M172.82,201.39 L173.77,201.39 L173.77,201.05 L175.35,201.05 L175.35,200.77 L176.93,200.77 L176.93,200.67 L178.51,200.67 L178.51,200.49 L180.09,200.49 L180.09,200.36 L181.67,200.36 L181.67,200.15 L183.26,200.15 L183.26,200.08 L184.84,200.08 L184.84,199.89 L186.42,199.89 L186.42,200.01 L188.00,200.01 L188.00,199.57 L189.58,199.57 L189.58,199.60 L191.16,199.60 L191.16,199.35 L192.74,199.35 L192.74,199.19 L194.32,199.19 L194.32,198.92 L195.91,198.92 L195.91,198.51 L197.49,198.51 L197.49,198.21 L199.07,198.21 L199.07,198.06 L200.65,198.06 L200.65,197.43 L202.23,197.43 L202.23,196.29 L203.81,196.29 L203.81,194.86 L205.39,194.86 L205.39,193.15 L206.97,193.15 L206.97,191.12 L208.56,191.12 L208.56,189.93 L210.14,189.93 L210.14,188.98 L211.72,188.98 L211.72,187.14 L213.30,187.14 L213.30,185.22 L214.88,185.22 L214.88,185.89 L216.46,185.89 L216.46,185.41 L218.04,185.41 L218.04,183.86 L219.62,183.86 L219.62,182.89 L221.21,182.89 L221.21,181.98 L222.79,181.98 L222.79,180.67 L224.37,180.67 L224.37,180.56 L225.95,180.56 L225.95,182.84 L227.53,182.84 L227.53,187.27 L229.11,187.27 L229.11,190.74 L230.69,190.74 L230.69,193.75 L232.27,193.75 L232.27,196.40 L233.86,196.40 L233.86,198.56 L235.44,198.56 L235.44,200.01 L237.02,200.01 L237.02,201.08 L238.60,201.08" fill="none" stroke="#939393" stroke-width="1.35" stroke-linejoin="round"/><path d="M163.20,201.50 L163.20,133.06 L163.20,200.43 L163.96,200.41 L164.28,200.41 L164.28,200.18 L165.86,200.18 L165.86,199.94 L167.44,199.94 L167.44,199.66 L169.02,199.66 L169.02,199.29 L170.61,199.29 L170.61,199.38 L172.19,199.38 L172.19,199.11 L173.77,199.11 L173.77,199.00 L175.35,199.00 L175.35,198.68 L176.93,198.68 L176.93,198.31 L178.51,198.31 L178.51,198.09 L180.09,198.09 L180.09,197.52 L181.67,197.52 L181.67,197.16 L183.26,197.16 L183.26,195.66 L184.84,195.66 L184.84,193.87 L186.42,193.87 L186.42,189.74 L188.00,189.74 L188.00,186.82 L189.58,186.82 L189.58,185.37 L191.16,185.37 L191.16,184.93 L192.74,184.93 L192.74,183.99 L194.32,183.99 L194.32,184.29 L195.91,184.29 L195.91,185.64 L197.49,185.64 L197.49,187.01 L199.07,187.01 L199.07,187.84 L200.65,187.84 L200.65,188.58 L202.23,188.58 L202.23,189.45 L203.81,189.45 L203.81,190.59 L205.39,190.59 L205.39,192.33 L206.97,192.33 L206.97,194.01 L208.56,194.01 L208.56,196.20 L210.14,196.20 L210.14,196.92 L211.72,196.92 L211.72,197.93 L213.30,197.93 L213.30,198.62 L214.88,198.62 L214.88,199.34 L216.46,199.34 L216.46,199.81 L218.04,199.81 L218.04,200.29 L219.62,200.29 L219.62,200.58 L221.21,200.58 L221.21,200.89 L222.79,200.89 L222.79,201.12 L224.37,201.12 L224.37,201.33 L225.95,201.33" fill="none" stroke="#000" stroke-width="2.0" stroke-linejoin="miter" stroke-miterlimit="2"/><path d="M162.70,121.30 V201.50 H263.90" fill="none" stroke="#000" stroke-width="1.6"/><line x1="159.70" y1="201.50" x2="162.70" y2="201.50" stroke="#000" stroke-width="1"/><text class="t" x="159.30" y="204.30" font-size="7" text-anchor="end">0</text><line x1="159.70" y1="188.13" x2="162.70" y2="188.13" stroke="#000" stroke-width="1"/><text class="t" x="159.30" y="190.93" font-size="7" text-anchor="end">25</text><line x1="159.70" y1="174.77" x2="162.70" y2="174.77" stroke="#000" stroke-width="1"/><text class="t" x="159.30" y="177.57" font-size="7" text-anchor="end">50</text><line x1="159.70" y1="161.40" x2="162.70" y2="161.40" stroke="#000" stroke-width="1"/><text class="t" x="159.30" y="164.20" font-size="7" text-anchor="end">75</text><line x1="159.70" y1="148.03" x2="162.70" y2="148.03" stroke="#000" stroke-width="1"/><text class="t" x="159.30" y="150.83" font-size="7" text-anchor="end">100</text><line x1="159.70" y1="134.67" x2="162.70" y2="134.67" stroke="#000" stroke-width="1"/><text class="t" x="159.30" y="137.47" font-size="7" text-anchor="end">125</text><line x1="159.70" y1="121.30" x2="162.70" y2="121.30" stroke="#000" stroke-width="1"/><text class="t" x="159.30" y="124.10" font-size="7" text-anchor="end">150</text><line x1="162.70" y1="201.50" x2="162.70" y2="204.10" stroke="#000" stroke-width="1"/><text class="t" x="164.00" y="210.80" font-size="7" text-anchor="middle">10<tspan font-size="6.2" dy="-2.6" style="stroke-width:0.1px">0</tspan></text><line x1="170.32" y1="201.50" x2="170.32" y2="203.80" stroke="#000" stroke-width="0.9"/><line x1="174.77" y1="201.50" x2="174.77" y2="203.80" stroke="#000" stroke-width="0.9"/><line x1="177.93" y1="201.50" x2="177.93" y2="203.80" stroke="#000" stroke-width="0.9"/><line x1="180.38" y1="201.50" x2="180.38" y2="203.80" stroke="#000" stroke-width="0.9"/><line x1="182.39" y1="201.50" x2="182.39" y2="203.80" stroke="#000" stroke-width="0.9"/><line x1="184.08" y1="201.50" x2="184.08" y2="203.80" stroke="#000" stroke-width="0.9"/><line x1="185.55" y1="201.50" x2="185.55" y2="203.80" stroke="#000" stroke-width="0.9"/><line x1="186.84" y1="201.50" x2="186.84" y2="203.80" stroke="#000" stroke-width="0.9"/><line x1="188.00" y1="201.50" x2="188.00" y2="204.10" stroke="#000" stroke-width="1"/><text class="t" x="188.40" y="210.80" font-size="7" text-anchor="middle">10<tspan font-size="6.2" dy="-2.6" style="stroke-width:0.1px">1</tspan></text><line x1="195.62" y1="201.50" x2="195.62" y2="203.80" stroke="#000" stroke-width="0.9"/><line x1="200.07" y1="201.50" x2="200.07" y2="203.80" stroke="#000" stroke-width="0.9"/><line x1="203.23" y1="201.50" x2="203.23" y2="203.80" stroke="#000" stroke-width="0.9"/><line x1="205.68" y1="201.50" x2="205.68" y2="203.80" stroke="#000" stroke-width="0.9"/><line x1="207.69" y1="201.50" x2="207.69" y2="203.80" stroke="#000" stroke-width="0.9"/><line x1="209.38" y1="201.50" x2="209.38" y2="203.80" stroke="#000" stroke-width="0.9"/><line x1="210.85" y1="201.50" x2="210.85" y2="203.80" stroke="#000" stroke-width="0.9"/><line x1="212.14" y1="201.50" x2="212.14" y2="203.80" stroke="#000" stroke-width="0.9"/><line x1="213.30" y1="201.50" x2="213.30" y2="204.10" stroke="#000" stroke-width="1"/><text class="t" x="213.70" y="210.80" font-size="7" text-anchor="middle">10<tspan font-size="6.2" dy="-2.6" style="stroke-width:0.1px">2</tspan></text><line x1="220.92" y1="201.50" x2="220.92" y2="203.80" stroke="#000" stroke-width="0.9"/><line x1="225.37" y1="201.50" x2="225.37" y2="203.80" stroke="#000" stroke-width="0.9"/><line x1="228.53" y1="201.50" x2="228.53" y2="203.80" stroke="#000" stroke-width="0.9"/><line x1="230.98" y1="201.50" x2="230.98" y2="203.80" stroke="#000" stroke-width="0.9"/><line x1="232.99" y1="201.50" x2="232.99" y2="203.80" stroke="#000" stroke-width="0.9"/><line x1="234.68" y1="201.50" x2="234.68" y2="203.80" stroke="#000" stroke-width="0.9"/><line x1="236.15" y1="201.50" x2="236.15" y2="203.80" stroke="#000" stroke-width="0.9"/><line x1="237.44" y1="201.50" x2="237.44" y2="203.80" stroke="#000" stroke-width="0.9"/><line x1="238.60" y1="201.50" x2="238.60" y2="204.10" stroke="#000" stroke-width="1"/><text class="t" x="239.00" y="210.80" font-size="7" text-anchor="middle">10<tspan font-size="6.2" dy="-2.6" style="stroke-width:0.1px">3</tspan></text><line x1="246.22" y1="201.50" x2="246.22" y2="203.80" stroke="#000" stroke-width="0.9"/><line x1="250.67" y1="201.50" x2="250.67" y2="203.80" stroke="#000" stroke-width="0.9"/><line x1="253.83" y1="201.50" x2="253.83" y2="203.80" stroke="#000" stroke-width="0.9"/><line x1="256.28" y1="201.50" x2="256.28" y2="203.80" stroke="#000" stroke-width="0.9"/><line x1="258.29" y1="201.50" x2="258.29" y2="203.80" stroke="#000" stroke-width="0.9"/><line x1="259.98" y1="201.50" x2="259.98" y2="203.80" stroke="#000" stroke-width="0.9"/><line x1="261.45" y1="201.50" x2="261.45" y2="203.80" stroke="#000" stroke-width="0.9"/><line x1="262.74" y1="201.50" x2="262.74" y2="203.80" stroke="#000" stroke-width="0.9"/><line x1="263.90" y1="201.50" x2="263.90" y2="204.10" stroke="#000" stroke-width="1"/><text class="t" x="264.30" y="210.80" font-size="7" text-anchor="middle">10<tspan font-size="6.2" dy="-2.6" style="stroke-width:0.1px">4</tspan></text><text x="213.30" y="221.20" class="b" font-size="7.6" font-weight="bold" text-anchor="middle">CD14 FITC</text></g>
<g><path d="M287.60,121.30 H388.80 V201.50" fill="none" stroke="#1c1c1c" stroke-width="1.5"/><path d="M291.40,201.41 L292.34,201.41 L292.34,201.38 L293.93,201.38 L293.93,200.98 L295.51,200.98 L295.51,200.76 L297.09,200.76 L297.09,200.38 L298.67,200.38 L298.67,200.10 L300.25,200.10 L300.25,199.52 L301.83,199.52 L301.83,199.13 L303.41,199.13 L303.41,198.52 L304.99,198.52 L304.99,197.57 L306.58,197.57 L306.58,196.60 L308.16,196.60 L308.16,195.59 L309.74,195.59 L309.74,194.19 L311.32,194.19 L311.32,192.34 L312.90,192.34 L312.90,190.59 L314.48,190.59 L314.48,189.04 L316.06,189.04 L316.06,187.32 L317.64,187.32 L317.64,186.13 L319.23,186.13 L319.23,183.44 L320.81,183.44 L320.81,182.66 L322.39,182.66 L322.39,181.02 L323.97,181.02 L323.97,179.88 L325.55,179.88 L325.55,177.67 L327.13,177.67 L327.13,175.95 L328.71,175.95 L328.71,179.52 L330.29,179.52 L330.29,183.32 L331.88,183.32 L331.88,188.14 L333.46,188.14 L333.46,191.74 L335.04,191.74 L335.04,196.18 L336.62,196.18 L336.62,198.52 L338.20,198.52 L338.20,199.96 L339.78,199.96 L339.78,200.94 L341.36,200.94 L341.36,201.41 L342.50,201.41" fill="none" stroke="#939393" stroke-width="1.35" stroke-linejoin="round"/><path d="M287.60,200.53 L289.18,200.53 L289.18,200.09 L290.76,200.09 L290.76,199.72 L292.34,199.72 L292.34,199.12 L293.93,199.12 L293.93,197.74 L295.51,197.74 L295.51,196.18 L297.09,196.18 L297.09,194.68 L298.67,194.68 L298.67,191.94 L300.25,191.94 L300.25,187.80 L301.83,187.80 L301.83,183.03 L303.41,183.03 L303.41,176.49 L304.99,176.49 L304.99,170.67 L306.58,170.67 L306.58,164.72 L308.16,164.72 L308.16,161.56 L309.74,161.56 L309.74,165.95 L311.32,165.95 L311.32,171.45 L312.90,171.45 L312.90,183.83 L314.48,183.83 L314.48,191.31 L316.06,191.31 L316.06,197.28 L317.64,197.28 L317.64,199.59 L319.23,199.59 L319.23,200.59 L320.81,200.59 L320.81,201.09 L322.39,201.09 L322.39,201.38 L323.97,201.38 L323.97,201.48 L324.29,201.48" fill="none" stroke="#000" stroke-width="2.0" stroke-linejoin="miter" stroke-miterlimit="2"/><path d="M287.60,121.30 V201.50 H388.80" fill="none" stroke="#000" stroke-width="1.6"/><line x1="284.60" y1="201.50" x2="287.60" y2="201.50" stroke="#000" stroke-width="1"/><text class="t" x="284.20" y="204.30" font-size="7" text-anchor="end">0</text><line x1="284.60" y1="188.13" x2="287.60" y2="188.13" stroke="#000" stroke-width="1"/><text class="t" x="284.20" y="190.93" font-size="7" text-anchor="end">25</text><line x1="284.60" y1="174.77" x2="287.60" y2="174.77" stroke="#000" stroke-width="1"/><text class="t" x="284.20" y="177.57" font-size="7" text-anchor="end">50</text><line x1="284.60" y1="161.40" x2="287.60" y2="161.40" stroke="#000" stroke-width="1"/><text class="t" x="284.20" y="164.20" font-size="7" text-anchor="end">75</text><line x1="284.60" y1="148.03" x2="287.60" y2="148.03" stroke="#000" stroke-width="1"/><text class="t" x="284.20" y="150.83" font-size="7" text-anchor="end">100</text><line x1="284.60" y1="134.67" x2="287.60" y2="134.67" stroke="#000" stroke-width="1"/><text class="t" x="284.20" y="137.47" font-size="7" text-anchor="end">125</text><line x1="284.60" y1="121.30" x2="287.60" y2="121.30" stroke="#000" stroke-width="1"/><text class="t" x="284.20" y="124.10" font-size="7" text-anchor="end">150</text><line x1="287.60" y1="201.50" x2="287.60" y2="204.10" stroke="#000" stroke-width="1"/><text class="t" x="288.90" y="210.80" font-size="7" text-anchor="middle">10<tspan font-size="6.2" dy="-2.6" style="stroke-width:0.1px">0</tspan></text><line x1="295.22" y1="201.50" x2="295.22" y2="203.80" stroke="#000" stroke-width="0.9"/><line x1="299.67" y1="201.50" x2="299.67" y2="203.80" stroke="#000" stroke-width="0.9"/><line x1="302.83" y1="201.50" x2="302.83" y2="203.80" stroke="#000" stroke-width="0.9"/><line x1="305.28" y1="201.50" x2="305.28" y2="203.80" stroke="#000" stroke-width="0.9"/><line x1="307.29" y1="201.50" x2="307.29" y2="203.80" stroke="#000" stroke-width="0.9"/><line x1="308.98" y1="201.50" x2="308.98" y2="203.80" stroke="#000" stroke-width="0.9"/><line x1="310.45" y1="201.50" x2="310.45" y2="203.80" stroke="#000" stroke-width="0.9"/><line x1="311.74" y1="201.50" x2="311.74" y2="203.80" stroke="#000" stroke-width="0.9"/><line x1="312.90" y1="201.50" x2="312.90" y2="204.10" stroke="#000" stroke-width="1"/><text class="t" x="313.30" y="210.80" font-size="7" text-anchor="middle">10<tspan font-size="6.2" dy="-2.6" style="stroke-width:0.1px">1</tspan></text><line x1="320.52" y1="201.50" x2="320.52" y2="203.80" stroke="#000" stroke-width="0.9"/><line x1="324.97" y1="201.50" x2="324.97" y2="203.80" stroke="#000" stroke-width="0.9"/><line x1="328.13" y1="201.50" x2="328.13" y2="203.80" stroke="#000" stroke-width="0.9"/><line x1="330.58" y1="201.50" x2="330.58" y2="203.80" stroke="#000" stroke-width="0.9"/><line x1="332.59" y1="201.50" x2="332.59" y2="203.80" stroke="#000" stroke-width="0.9"/><line x1="334.28" y1="201.50" x2="334.28" y2="203.80" stroke="#000" stroke-width="0.9"/><line x1="335.75" y1="201.50" x2="335.75" y2="203.80" stroke="#000" stroke-width="0.9"/><line x1="337.04" y1="201.50" x2="337.04" y2="203.80" stroke="#000" stroke-width="0.9"/><line x1="338.20" y1="201.50" x2="338.20" y2="204.10" stroke="#000" stroke-width="1"/><text class="t" x="338.60" y="210.80" font-size="7" text-anchor="middle">10<tspan font-size="6.2" dy="-2.6" style="stroke-width:0.1px">2</tspan></text><line x1="345.82" y1="201.50" x2="345.82" y2="203.80" stroke="#000" stroke-width="0.9"/><line x1="350.27" y1="201.50" x2="350.27" y2="203.80" stroke="#000" stroke-width="0.9"/><line x1="353.43" y1="201.50" x2="353.43" y2="203.80" stroke="#000" stroke-width="0.9"/><line x1="355.88" y1="201.50" x2="355.88" y2="203.80" stroke="#000" stroke-width="0.9"/><line x1="357.89" y1="201.50" x2="357.89" y2="203.80" stroke="#000" stroke-width="0.9"/><line x1="359.58" y1="201.50" x2="359.58" y2="203.80" stroke="#000" stroke-width="0.9"/><line x1="361.05" y1="201.50" x2="361.05" y2="203.80" stroke="#000" stroke-width="0.9"/><line x1="362.34" y1="201.50" x2="362.34" y2="203.80" stroke="#000" stroke-width="0.9"/><line x1="363.50" y1="201.50" x2="363.50" y2="204.10" stroke="#000" stroke-width="1"/><text class="t" x="363.90" y="210.80" font-size="7" text-anchor="middle">10<tspan font-size="6.2" dy="-2.6" style="stroke-width:0.1px">3</tspan></text><line x1="371.12" y1="201.50" x2="371.12" y2="203.80" stroke="#000" stroke-width="0.9"/><line x1="375.57" y1="201.50" x2="375.57" y2="203.80" stroke="#000" stroke-width="0.9"/><line x1="378.73" y1="201.50" x2="378.73" y2="203.80" stroke="#000" stroke-width="0.9"/><line x1="381.18" y1="201.50" x2="381.18" y2="203.80" stroke="#000" stroke-width="0.9"/><line x1="383.19" y1="201.50" x2="383.19" y2="203.80" stroke="#000" stroke-width="0.9"/><line x1="384.88" y1="201.50" x2="384.88" y2="203.80" stroke="#000" stroke-width="0.9"/><line x1="386.35" y1="201.50" x2="386.35" y2="203.80" stroke="#000" stroke-width="0.9"/><line x1="387.64" y1="201.50" x2="387.64" y2="203.80" stroke="#000" stroke-width="0.9"/><line x1="388.80" y1="201.50" x2="388.80" y2="204.10" stroke="#000" stroke-width="1"/><text class="t" x="389.20" y="210.80" font-size="7" text-anchor="middle">10<tspan font-size="6.2" dy="-2.6" style="stroke-width:0.1px">4</tspan></text><text x="338.20" y="221.20" class="b" font-size="7.6" font-weight="bold" text-anchor="middle">CD36 FITC</text></g>
<g><path d="M412.80,121.30 H514.00 V201.50" fill="none" stroke="#1c1c1c" stroke-width="1.5"/><path d="M412.80,201.29 L413.18,200.93 L413.56,200.56 L413.94,200.44 L414.32,200.21 L414.70,200.06 L415.08,200.15 L415.46,199.83 L415.84,199.87 L416.22,199.48 L416.60,199.46 L416.97,199.40 L417.35,199.08 L417.73,198.78 L418.11,198.43 L418.49,197.91 L418.87,197.62 L419.25,197.02 L419.63,196.73 L420.01,196.42 L420.39,196.20 L420.77,195.76 L421.15,194.95 L421.53,194.34 L421.91,193.63 L422.29,193.48 L422.67,192.74 L423.05,192.32 L423.43,191.60 L423.81,191.36 L424.19,189.91 L424.56,189.49 L424.94,188.47 L425.32,187.38 L425.70,186.33 L426.08,185.67 L426.46,183.62 L426.84,182.61 L427.22,181.32 L427.60,180.26 L427.98,179.17 L428.36,177.88 L428.74,176.26 L429.12,175.15 L429.50,174.59 L429.88,172.74 L430.26,172.41 L430.64,171.11 L431.02,169.97 L431.40,169.52 L431.78,167.20 L432.15,165.61 L432.53,163.60 L432.91,161.88 L433.29,162.49 L433.67,163.86 L434.05,165.27 L434.43,167.48 L434.81,167.90 L435.19,168.91 L435.57,169.60 L435.95,170.67 L436.33,171.59 L436.71,173.38 L437.09,176.09 L437.47,179.05 L437.85,181.30 L438.23,183.46 L438.61,185.52 L438.99,186.90 L439.37,188.36 L439.74,190.37 L440.12,191.96 L440.50,195.44 L440.88,197.59 L441.26,198.17 L441.64,198.65 L442.02,199.06 L442.40,199.09 L442.78,199.40 L443.16,199.66 L443.54,199.74 L443.92,200.17 L444.30,200.46 L444.68,200.51 L445.06,200.62 L445.44,200.77 L445.82,200.89 L446.20,200.86 L446.58,201.02 L446.96,200.93 L447.33,200.96 L447.71,201.10 L448.09,201.08 L448.47,201.18 L448.85,201.19 L449.23,201.16 L449.61,201.26 L449.99,201.25 L450.37,201.28 L450.75,201.34 L451.13,201.36 L451.51,201.40 L451.89,201.48" fill="none" stroke="#7a7a7a" stroke-width="2.0" stroke-linejoin="round"/><path d="M412.80,201.26 L413.18,200.84 L413.56,200.52 L413.94,200.33 L414.32,200.11 L414.70,200.17 L415.08,199.98 L415.46,199.96 L415.84,199.95 L416.22,199.76 L416.60,199.52 L416.97,199.44 L417.35,199.12 L417.73,198.67 L418.11,198.40 L418.49,198.02 L418.87,197.65 L419.25,197.30 L419.63,197.13 L420.01,196.22 L420.39,196.20 L420.77,195.44 L421.15,195.01 L421.53,194.44 L421.91,193.87 L422.29,193.42 L422.67,192.56 L423.05,192.43 L423.43,191.31 L423.81,191.22 L424.19,189.80 L424.56,189.44 L424.94,188.36 L425.32,187.08 L425.70,187.04 L426.08,185.37 L426.46,183.91 L426.84,182.56 L427.22,181.04 L427.60,179.83 L427.98,178.43 L428.36,177.26 L428.74,176.09 L429.12,175.19 L429.50,173.94 L429.88,173.38 L430.26,172.26 L430.64,170.86 L431.02,169.87 L431.40,169.21 L431.78,167.67 L432.15,165.49 L432.53,163.32 L432.91,163.05 L433.29,163.44 L433.67,164.05 L434.05,165.82 L434.43,167.02 L434.81,167.48 L435.19,169.12 L435.57,168.69 L435.95,170.71 L436.33,172.17 L436.71,172.89 L437.09,176.19 L437.47,179.53 L437.85,181.86 L438.23,183.85 L438.61,185.17 L438.99,186.55 L439.37,188.27 L439.74,189.97 L440.12,191.71 L440.50,194.86 L440.88,197.48 L441.26,198.53 L441.64,198.47 L442.02,198.82 L442.40,199.08 L442.78,199.44 L443.16,199.63 L443.54,199.87 L443.92,200.23 L444.30,200.25 L444.68,200.50 L445.06,200.74 L445.44,200.92 L445.82,200.85 L446.20,200.94 L446.58,200.95 L446.96,201.06 L447.33,200.94 L447.71,201.09 L448.09,201.01 L448.47,201.21 L448.85,201.13 L449.23,201.18 L449.61,201.31 L449.99,201.28 L450.37,201.34 L450.75,201.38 L451.13,201.40 L451.51,201.46 L451.89,201.48" fill="none" stroke="#000" stroke-width="1.3" stroke-linejoin="miter" stroke-miterlimit="2"/><path d="M412.80,121.30 V201.50 H514.00" fill="none" stroke="#000" stroke-width="1.6"/><line x1="409.80" y1="201.50" x2="412.80" y2="201.50" stroke="#000" stroke-width="1"/><text class="t" x="409.40" y="204.30" font-size="7" text-anchor="end">0</text><line x1="409.80" y1="188.13" x2="412.80" y2="188.13" stroke="#000" stroke-width="1"/><text class="t" x="409.40" y="190.93" font-size="7" text-anchor="end">25</text><line x1="409.80" y1="174.77" x2="412.80" y2="174.77" stroke="#000" stroke-width="1"/><text class="t" x="409.40" y="177.57" font-size="7" text-anchor="end">50</text><line x1="409.80" y1="161.40" x2="412.80" y2="161.40" stroke="#000" stroke-width="1"/><text class="t" x="409.40" y="164.20" font-size="7" text-anchor="end">75</text><line x1="409.80" y1="148.03" x2="412.80" y2="148.03" stroke="#000" stroke-width="1"/><text class="t" x="409.40" y="150.83" font-size="7" text-anchor="end">100</text><line x1="409.80" y1="134.67" x2="412.80" y2="134.67" stroke="#000" stroke-width="1"/><text class="t" x="409.40" y="137.47" font-size="7" text-anchor="end">125</text><line x1="409.80" y1="121.30" x2="412.80" y2="121.30" stroke="#000" stroke-width="1"/><text class="t" x="409.40" y="124.10" font-size="7" text-anchor="end">150</text><line x1="412.80" y1="201.50" x2="412.80" y2="204.10" stroke="#000" stroke-width="1"/><text class="t" x="414.10" y="210.80" font-size="7" text-anchor="middle">10<tspan font-size="6.2" dy="-2.6" style="stroke-width:0.1px">0</tspan></text><line x1="420.42" y1="201.50" x2="420.42" y2="203.80" stroke="#000" stroke-width="0.9"/><line x1="424.87" y1="201.50" x2="424.87" y2="203.80" stroke="#000" stroke-width="0.9"/><line x1="428.03" y1="201.50" x2="428.03" y2="203.80" stroke="#000" stroke-width="0.9"/><line x1="430.48" y1="201.50" x2="430.48" y2="203.80" stroke="#000" stroke-width="0.9"/><line x1="432.49" y1="201.50" x2="432.49" y2="203.80" stroke="#000" stroke-width="0.9"/><line x1="434.18" y1="201.50" x2="434.18" y2="203.80" stroke="#000" stroke-width="0.9"/><line x1="435.65" y1="201.50" x2="435.65" y2="203.80" stroke="#000" stroke-width="0.9"/><line x1="436.94" y1="201.50" x2="436.94" y2="203.80" stroke="#000" stroke-width="0.9"/><line x1="438.10" y1="201.50" x2="438.10" y2="204.10" stroke="#000" stroke-width="1"/><text class="t" x="438.50" y="210.80" font-size="7" text-anchor="middle">10<tspan font-size="6.2" dy="-2.6" style="stroke-width:0.1px">1</tspan></text><line x1="445.72" y1="201.50" x2="445.72" y2="203.80" stroke="#000" stroke-width="0.9"/><line x1="450.17" y1="201.50" x2="450.17" y2="203.80" stroke="#000" stroke-width="0.9"/><line x1="453.33" y1="201.50" x2="453.33" y2="203.80" stroke="#000" stroke-width="0.9"/><line x1="455.78" y1="201.50" x2="455.78" y2="203.80" stroke="#000" stroke-width="0.9"/><line x1="457.79" y1="201.50" x2="457.79" y2="203.80" stroke="#000" stroke-width="0.9"/><line x1="459.48" y1="201.50" x2="459.48" y2="203.80" stroke="#000" stroke-width="0.9"/><line x1="460.95" y1="201.50" x2="460.95" y2="203.80" stroke="#000" stroke-width="0.9"/><line x1="462.24" y1="201.50" x2="462.24" y2="203.80" stroke="#000" stroke-width="0.9"/><line x1="463.40" y1="201.50" x2="463.40" y2="204.10" stroke="#000" stroke-width="1"/><text class="t" x="463.80" y="210.80" font-size="7" text-anchor="middle">10<tspan font-size="6.2" dy="-2.6" style="stroke-width:0.1px">2</tspan></text><line x1="471.02" y1="201.50" x2="471.02" y2="203.80" stroke="#000" stroke-width="0.9"/><line x1="475.47" y1="201.50" x2="475.47" y2="203.80" stroke="#000" stroke-width="0.9"/><line x1="478.63" y1="201.50" x2="478.63" y2="203.80" stroke="#000" stroke-width="0.9"/><line x1="481.08" y1="201.50" x2="481.08" y2="203.80" stroke="#000" stroke-width="0.9"/><line x1="483.09" y1="201.50" x2="483.09" y2="203.80" stroke="#000" stroke-width="0.9"/><line x1="484.78" y1="201.50" x2="484.78" y2="203.80" stroke="#000" stroke-width="0.9"/><line x1="486.25" y1="201.50" x2="486.25" y2="203.80" stroke="#000" stroke-width="0.9"/><line x1="487.54" y1="201.50" x2="487.54" y2="203.80" stroke="#000" stroke-width="0.9"/><line x1="488.70" y1="201.50" x2="488.70" y2="204.10" stroke="#000" stroke-width="1"/><text class="t" x="489.10" y="210.80" font-size="7" text-anchor="middle">10<tspan font-size="6.2" dy="-2.6" style="stroke-width:0.1px">3</tspan></text><line x1="496.32" y1="201.50" x2="496.32" y2="203.80" stroke="#000" stroke-width="0.9"/><line x1="500.77" y1="201.50" x2="500.77" y2="203.80" stroke="#000" stroke-width="0.9"/><line x1="503.93" y1="201.50" x2="503.93" y2="203.80" stroke="#000" stroke-width="0.9"/><line x1="506.38" y1="201.50" x2="506.38" y2="203.80" stroke="#000" stroke-width="0.9"/><line x1="508.39" y1="201.50" x2="508.39" y2="203.80" stroke="#000" stroke-width="0.9"/><line x1="510.08" y1="201.50" x2="510.08" y2="203.80" stroke="#000" stroke-width="0.9"/><line x1="511.55" y1="201.50" x2="511.55" y2="203.80" stroke="#000" stroke-width="0.9"/><line x1="512.84" y1="201.50" x2="512.84" y2="203.80" stroke="#000" stroke-width="0.9"/><line x1="514.00" y1="201.50" x2="514.00" y2="204.10" stroke="#000" stroke-width="1"/><text class="t" x="514.40" y="210.80" font-size="7" text-anchor="middle">10<tspan font-size="6.2" dy="-2.6" style="stroke-width:0.1px">4</tspan></text><text x="463.40" y="221.20" class="b" font-size="7.6" font-weight="bold" text-anchor="middle">CD62L FITC</text></g>
<text x="1.75" y="129.00" font-size="17.2" font-weight="bold">B</text>
<g><path d="M37.60,237.60 H138.80 V317.80" fill="none" stroke="#1c1c1c" stroke-width="1.5"/><path d="M37.60,262.52 L39.18,262.52 L39.18,270.29 L40.76,270.29 L40.76,272.19 L42.34,272.19 L42.34,274.94 L43.93,274.94 L43.93,282.17 L45.51,282.17 L45.51,287.32 L47.09,287.32 L47.09,292.70 L48.67,292.70 L48.67,296.95 L50.25,296.95 L50.25,299.86 L51.83,299.86 L51.83,302.24 L53.41,302.24 L53.41,305.11 L54.99,305.11 L54.99,306.25 L56.58,306.25 L56.58,308.98 L58.16,308.98 L58.16,309.14 L59.74,309.14 L59.74,310.27 L61.32,310.27 L61.32,311.23 L62.90,311.23 L62.90,311.64 L64.48,311.64 L64.48,312.77 L66.06,312.77 L66.06,313.43 L67.64,313.43 L67.64,314.24 L69.22,314.24 L69.22,314.78 L70.81,314.78 L70.81,315.39 L72.39,315.39 L72.39,316.05 L73.97,316.05 L73.97,316.24 L75.55,316.24 L75.55,316.31 L77.13,316.31 L77.13,316.52 L78.71,316.52 L78.71,316.84 L80.29,316.84 L80.29,316.57 L81.88,316.57 L81.88,317.07 L83.46,317.07 L83.46,317.16 L85.04,317.16 L85.04,317.20 L86.62,317.20 L86.62,317.23 L88.20,317.23 L88.20,317.40 L89.78,317.40 L89.78,317.72 L90.73,317.72" fill="none" stroke="#a2a2a2" stroke-width="1.15" stroke-linejoin="round"/><path d="M38.50,317.80 L38.50,254.04 L38.50,262.46 L39.40,262.46 L39.40,266.87 L39.62,267.16 L40.76,267.16 L40.76,267.81 L42.34,267.81 L42.34,273.32 L43.93,273.32 L43.93,281.78 L45.51,281.78 L45.51,287.36 L47.09,287.36 L47.09,293.19 L48.67,293.19 L48.67,297.87 L50.25,297.87 L50.25,299.70 L51.83,299.70 L51.83,301.35 L53.41,301.35 L53.41,304.37 L54.99,304.37 L54.99,309.88 L56.58,309.88 L56.58,311.83 L58.16,311.83 L58.16,312.79 L59.74,312.79 L59.74,313.80 L61.32,313.80 L61.32,314.43 L62.90,314.43 L62.90,315.29 L64.48,315.29 L64.48,315.96 L66.06,315.96 L66.06,316.72 L67.64,316.72 L67.64,317.01 L69.22,317.01 L69.22,317.24 L70.81,317.24 L70.81,317.46 L72.39,317.46 L72.39,317.62 L73.97,317.62 L73.97,317.77 L75.55,317.77" fill="none" stroke="#000" stroke-width="2.3" stroke-linejoin="miter" stroke-miterlimit="2"/><path d="M37.60,237.60 V317.80 H138.80" fill="none" stroke="#000" stroke-width="1.6"/><line x1="34.60" y1="317.80" x2="37.60" y2="317.80" stroke="#000" stroke-width="1"/><text class="t" x="34.20" y="320.60" font-size="7" text-anchor="end">0</text><line x1="34.60" y1="301.76" x2="37.60" y2="301.76" stroke="#000" stroke-width="1"/><text class="t" x="34.20" y="304.56" font-size="7" text-anchor="end">20</text><line x1="34.60" y1="285.72" x2="37.60" y2="285.72" stroke="#000" stroke-width="1"/><text class="t" x="34.20" y="288.52" font-size="7" text-anchor="end">40</text><line x1="34.60" y1="269.68" x2="37.60" y2="269.68" stroke="#000" stroke-width="1"/><text class="t" x="34.20" y="272.48" font-size="7" text-anchor="end">60</text><line x1="34.60" y1="253.64" x2="37.60" y2="253.64" stroke="#000" stroke-width="1"/><text class="t" x="34.20" y="256.44" font-size="7" text-anchor="end">80</text><line x1="34.60" y1="237.60" x2="37.60" y2="237.60" stroke="#000" stroke-width="1"/><text class="t" x="34.20" y="240.40" font-size="7" text-anchor="end">100</text><line x1="37.60" y1="317.80" x2="37.60" y2="320.40" stroke="#000" stroke-width="1"/><text class="t" x="38.90" y="327.10" font-size="7" text-anchor="middle">10<tspan font-size="6.2" dy="-2.6" style="stroke-width:0.1px">0</tspan></text><line x1="45.22" y1="317.80" x2="45.22" y2="320.10" stroke="#000" stroke-width="0.9"/><line x1="49.67" y1="317.80" x2="49.67" y2="320.10" stroke="#000" stroke-width="0.9"/><line x1="52.83" y1="317.80" x2="52.83" y2="320.10" stroke="#000" stroke-width="0.9"/><line x1="55.28" y1="317.80" x2="55.28" y2="320.10" stroke="#000" stroke-width="0.9"/><line x1="57.29" y1="317.80" x2="57.29" y2="320.10" stroke="#000" stroke-width="0.9"/><line x1="58.98" y1="317.80" x2="58.98" y2="320.10" stroke="#000" stroke-width="0.9"/><line x1="60.45" y1="317.80" x2="60.45" y2="320.10" stroke="#000" stroke-width="0.9"/><line x1="61.74" y1="317.80" x2="61.74" y2="320.10" stroke="#000" stroke-width="0.9"/><line x1="62.90" y1="317.80" x2="62.90" y2="320.40" stroke="#000" stroke-width="1"/><text class="t" x="63.30" y="327.10" font-size="7" text-anchor="middle">10<tspan font-size="6.2" dy="-2.6" style="stroke-width:0.1px">1</tspan></text><line x1="70.52" y1="317.80" x2="70.52" y2="320.10" stroke="#000" stroke-width="0.9"/><line x1="74.97" y1="317.80" x2="74.97" y2="320.10" stroke="#000" stroke-width="0.9"/><line x1="78.13" y1="317.80" x2="78.13" y2="320.10" stroke="#000" stroke-width="0.9"/><line x1="80.58" y1="317.80" x2="80.58" y2="320.10" stroke="#000" stroke-width="0.9"/><line x1="82.59" y1="317.80" x2="82.59" y2="320.10" stroke="#000" stroke-width="0.9"/><line x1="84.28" y1="317.80" x2="84.28" y2="320.10" stroke="#000" stroke-width="0.9"/><line x1="85.75" y1="317.80" x2="85.75" y2="320.10" stroke="#000" stroke-width="0.9"/><line x1="87.04" y1="317.80" x2="87.04" y2="320.10" stroke="#000" stroke-width="0.9"/><line x1="88.20" y1="317.80" x2="88.20" y2="320.40" stroke="#000" stroke-width="1"/><text class="t" x="88.60" y="327.10" font-size="7" text-anchor="middle">10<tspan font-size="6.2" dy="-2.6" style="stroke-width:0.1px">2</tspan></text><line x1="95.82" y1="317.80" x2="95.82" y2="320.10" stroke="#000" stroke-width="0.9"/><line x1="100.27" y1="317.80" x2="100.27" y2="320.10" stroke="#000" stroke-width="0.9"/><line x1="103.43" y1="317.80" x2="103.43" y2="320.10" stroke="#000" stroke-width="0.9"/><line x1="105.88" y1="317.80" x2="105.88" y2="320.10" stroke="#000" stroke-width="0.9"/><line x1="107.89" y1="317.80" x2="107.89" y2="320.10" stroke="#000" stroke-width="0.9"/><line x1="109.58" y1="317.80" x2="109.58" y2="320.10" stroke="#000" stroke-width="0.9"/><line x1="111.05" y1="317.80" x2="111.05" y2="320.10" stroke="#000" stroke-width="0.9"/><line x1="112.34" y1="317.80" x2="112.34" y2="320.10" stroke="#000" stroke-width="0.9"/><line x1="113.50" y1="317.80" x2="113.50" y2="320.40" stroke="#000" stroke-width="1"/><text class="t" x="113.90" y="327.10" font-size="7" text-anchor="middle">10<tspan font-size="6.2" dy="-2.6" style="stroke-width:0.1px">3</tspan></text><line x1="121.12" y1="317.80" x2="121.12" y2="320.10" stroke="#000" stroke-width="0.9"/><line x1="125.57" y1="317.80" x2="125.57" y2="320.10" stroke="#000" stroke-width="0.9"/><line x1="128.73" y1="317.80" x2="128.73" y2="320.10" stroke="#000" stroke-width="0.9"/><line x1="131.18" y1="317.80" x2="131.18" y2="320.10" stroke="#000" stroke-width="0.9"/><line x1="133.19" y1="317.80" x2="133.19" y2="320.10" stroke="#000" stroke-width="0.9"/><line x1="134.88" y1="317.80" x2="134.88" y2="320.10" stroke="#000" stroke-width="0.9"/><line x1="136.35" y1="317.80" x2="136.35" y2="320.10" stroke="#000" stroke-width="0.9"/><line x1="137.64" y1="317.80" x2="137.64" y2="320.10" stroke="#000" stroke-width="0.9"/><line x1="138.80" y1="317.80" x2="138.80" y2="320.40" stroke="#000" stroke-width="1"/><text class="t" x="139.20" y="327.10" font-size="7" text-anchor="middle">10<tspan font-size="6.2" dy="-2.6" style="stroke-width:0.1px">4</tspan></text><text x="88.20" y="337.50" class="b" font-size="7.6" font-weight="bold" text-anchor="middle">FITC-Plasminogen</text><text transform="translate(21.2,278.10) rotate(-90)" class="b" font-size="7.6" font-weight="bold" text-anchor="middle">Counts</text></g>
<g><path d="M162.70,237.60 H263.90 V317.80" fill="none" stroke="#1c1c1c" stroke-width="1.5"/><path d="M162.70,315.05 L164.28,315.05 L164.28,314.84 L165.86,314.84 L165.86,314.93 L167.44,314.93 L167.44,315.09 L169.02,315.09 L169.02,314.89 L170.61,314.89 L170.61,315.21 L172.19,315.21 L172.19,314.90 L173.77,314.90 L173.77,315.08 L175.35,315.08 L175.35,314.89 L176.93,314.89 L176.93,314.88 L178.51,314.88 L178.51,314.98 L180.09,314.98 L180.09,314.67 L181.67,314.67 L181.67,314.56 L183.26,314.56 L183.26,314.56 L184.84,314.56 L184.84,313.93 L186.42,313.93 L186.42,313.80 L188.00,313.80 L188.00,313.63 L189.58,313.63 L189.58,312.06 L191.16,312.06 L191.16,309.35 L192.74,309.35 L192.74,306.88 L194.32,306.88 L194.32,303.22 L195.91,303.22 L195.91,297.08 L197.49,297.08 L197.49,292.13 L199.07,292.13 L199.07,284.23 L200.65,284.23 L200.65,276.07 L202.23,276.07 L202.23,270.00 L203.81,270.00 L203.81,268.84 L205.39,268.84 L205.39,271.55 L206.97,271.55 L206.97,276.28 L208.56,276.28 L208.56,278.87 L210.14,278.87 L210.14,283.86 L211.72,283.86 L211.72,290.86 L213.30,290.86 L213.30,294.98 L214.88,294.98 L214.88,299.36 L216.46,299.36 L216.46,301.96 L218.04,301.96 L218.04,305.13 L219.62,305.13 L219.62,307.85 L221.21,307.85 L221.21,309.64 L222.79,309.64 L222.79,311.29 L224.37,311.29 L224.37,312.07 L225.95,312.07 L225.95,313.05 L227.53,313.05 L227.53,313.65 L229.11,313.65 L229.11,314.80 L230.69,314.80 L230.69,315.00 L232.27,315.00 L232.27,315.65 L233.86,315.65 L233.86,316.09 L235.44,316.09 L235.44,316.76 L237.02,316.76 L237.02,317.35 L238.60,317.35" fill="none" stroke="#a2a2a2" stroke-width="1.15" stroke-linejoin="round"/><path d="M163.60,317.80 L163.60,237.60 L163.60,252.04 L164.80,252.04 L164.80,267.27 L165.23,268.59 L165.86,268.59 L165.86,271.17 L167.44,271.17 L167.44,274.92 L169.02,274.92 L169.02,279.69 L170.61,279.69 L170.61,286.47 L172.19,286.47 L172.19,293.24 L173.77,293.24 L173.77,298.14 L175.35,298.14 L175.35,301.97 L176.93,301.97 L176.93,305.04 L178.51,305.04 L178.51,306.77 L180.09,306.77 L180.09,308.80 L181.67,308.80 L181.67,310.18 L183.26,310.18 L183.26,312.10 L184.84,312.10 L184.84,313.09 L186.42,313.09 L186.42,313.41 L188.00,313.41 L188.00,313.81 L189.58,313.81 L189.58,314.12 L191.16,314.12 L191.16,314.67 L192.74,314.67 L192.74,315.14 L194.32,315.14 L194.32,315.41 L195.91,315.41 L195.91,315.83 L197.49,315.83 L197.49,315.70 L199.07,315.70 L199.07,316.13 L200.65,316.13 L200.65,316.06 L202.23,316.06 L202.23,315.88 L203.81,315.88 L203.81,316.48 L205.39,316.48 L205.39,316.45 L206.97,316.45 L206.97,316.57 L208.56,316.57 L208.56,316.75 L210.14,316.75 L210.14,317.16 L211.72,317.16 L211.72,317.28 L213.30,317.28 L213.30,317.52 L214.88,317.52 L214.88,317.72 L215.83,317.72" fill="none" stroke="#000" stroke-width="2.3" stroke-linejoin="miter" stroke-miterlimit="2"/><path d="M162.70,237.60 V317.80 H263.90" fill="none" stroke="#000" stroke-width="1.6"/><line x1="159.70" y1="317.80" x2="162.70" y2="317.80" stroke="#000" stroke-width="1"/><text class="t" x="159.30" y="320.60" font-size="7" text-anchor="end">0</text><line x1="159.70" y1="301.76" x2="162.70" y2="301.76" stroke="#000" stroke-width="1"/><text class="t" x="159.30" y="304.56" font-size="7" text-anchor="end">20</text><line x1="159.70" y1="285.72" x2="162.70" y2="285.72" stroke="#000" stroke-width="1"/><text class="t" x="159.30" y="288.52" font-size="7" text-anchor="end">40</text><line x1="159.70" y1="269.68" x2="162.70" y2="269.68" stroke="#000" stroke-width="1"/><text class="t" x="159.30" y="272.48" font-size="7" text-anchor="end">60</text><line x1="159.70" y1="253.64" x2="162.70" y2="253.64" stroke="#000" stroke-width="1"/><text class="t" x="159.30" y="256.44" font-size="7" text-anchor="end">80</text><line x1="159.70" y1="237.60" x2="162.70" y2="237.60" stroke="#000" stroke-width="1"/><text class="t" x="159.30" y="240.40" font-size="7" text-anchor="end">100</text><line x1="162.70" y1="317.80" x2="162.70" y2="320.40" stroke="#000" stroke-width="1"/><text class="t" x="164.00" y="327.10" font-size="7" text-anchor="middle">10<tspan font-size="6.2" dy="-2.6" style="stroke-width:0.1px">0</tspan></text><line x1="170.32" y1="317.80" x2="170.32" y2="320.10" stroke="#000" stroke-width="0.9"/><line x1="174.77" y1="317.80" x2="174.77" y2="320.10" stroke="#000" stroke-width="0.9"/><line x1="177.93" y1="317.80" x2="177.93" y2="320.10" stroke="#000" stroke-width="0.9"/><line x1="180.38" y1="317.80" x2="180.38" y2="320.10" stroke="#000" stroke-width="0.9"/><line x1="182.39" y1="317.80" x2="182.39" y2="320.10" stroke="#000" stroke-width="0.9"/><line x1="184.08" y1="317.80" x2="184.08" y2="320.10" stroke="#000" stroke-width="0.9"/><line x1="185.55" y1="317.80" x2="185.55" y2="320.10" stroke="#000" stroke-width="0.9"/><line x1="186.84" y1="317.80" x2="186.84" y2="320.10" stroke="#000" stroke-width="0.9"/><line x1="188.00" y1="317.80" x2="188.00" y2="320.40" stroke="#000" stroke-width="1"/><text class="t" x="188.40" y="327.10" font-size="7" text-anchor="middle">10<tspan font-size="6.2" dy="-2.6" style="stroke-width:0.1px">1</tspan></text><line x1="195.62" y1="317.80" x2="195.62" y2="320.10" stroke="#000" stroke-width="0.9"/><line x1="200.07" y1="317.80" x2="200.07" y2="320.10" stroke="#000" stroke-width="0.9"/><line x1="203.23" y1="317.80" x2="203.23" y2="320.10" stroke="#000" stroke-width="0.9"/><line x1="205.68" y1="317.80" x2="205.68" y2="320.10" stroke="#000" stroke-width="0.9"/><line x1="207.69" y1="317.80" x2="207.69" y2="320.10" stroke="#000" stroke-width="0.9"/><line x1="209.38" y1="317.80" x2="209.38" y2="320.10" stroke="#000" stroke-width="0.9"/><line x1="210.85" y1="317.80" x2="210.85" y2="320.10" stroke="#000" stroke-width="0.9"/><line x1="212.14" y1="317.80" x2="212.14" y2="320.10" stroke="#000" stroke-width="0.9"/><line x1="213.30" y1="317.80" x2="213.30" y2="320.40" stroke="#000" stroke-width="1"/><text class="t" x="213.70" y="327.10" font-size="7" text-anchor="middle">10<tspan font-size="6.2" dy="-2.6" style="stroke-width:0.1px">2</tspan></text><line x1="220.92" y1="317.80" x2="220.92" y2="320.10" stroke="#000" stroke-width="0.9"/><line x1="225.37" y1="317.80" x2="225.37" y2="320.10" stroke="#000" stroke-width="0.9"/><line x1="228.53" y1="317.80" x2="228.53" y2="320.10" stroke="#000" stroke-width="0.9"/><line x1="230.98" y1="317.80" x2="230.98" y2="320.10" stroke="#000" stroke-width="0.9"/><line x1="232.99" y1="317.80" x2="232.99" y2="320.10" stroke="#000" stroke-width="0.9"/><line x1="234.68" y1="317.80" x2="234.68" y2="320.10" stroke="#000" stroke-width="0.9"/><line x1="236.15" y1="317.80" x2="236.15" y2="320.10" stroke="#000" stroke-width="0.9"/><line x1="237.44" y1="317.80" x2="237.44" y2="320.10" stroke="#000" stroke-width="0.9"/><line x1="238.60" y1="317.80" x2="238.60" y2="320.40" stroke="#000" stroke-width="1"/><text class="t" x="239.00" y="327.10" font-size="7" text-anchor="middle">10<tspan font-size="6.2" dy="-2.6" style="stroke-width:0.1px">3</tspan></text><line x1="246.22" y1="317.80" x2="246.22" y2="320.10" stroke="#000" stroke-width="0.9"/><line x1="250.67" y1="317.80" x2="250.67" y2="320.10" stroke="#000" stroke-width="0.9"/><line x1="253.83" y1="317.80" x2="253.83" y2="320.10" stroke="#000" stroke-width="0.9"/><line x1="256.28" y1="317.80" x2="256.28" y2="320.10" stroke="#000" stroke-width="0.9"/><line x1="258.29" y1="317.80" x2="258.29" y2="320.10" stroke="#000" stroke-width="0.9"/><line x1="259.98" y1="317.80" x2="259.98" y2="320.10" stroke="#000" stroke-width="0.9"/><line x1="261.45" y1="317.80" x2="261.45" y2="320.10" stroke="#000" stroke-width="0.9"/><line x1="262.74" y1="317.80" x2="262.74" y2="320.10" stroke="#000" stroke-width="0.9"/><line x1="263.90" y1="317.80" x2="263.90" y2="320.40" stroke="#000" stroke-width="1"/><text class="t" x="264.30" y="327.10" font-size="7" text-anchor="middle">10<tspan font-size="6.2" dy="-2.6" style="stroke-width:0.1px">4</tspan></text><text x="213.30" y="337.50" class="b" font-size="7.6" font-weight="bold" text-anchor="middle">CD11b FITC</text></g>
<g><path d="M287.60,237.60 H388.80 V317.80" fill="none" stroke="#1c1c1c" stroke-width="1.5"/><path d="M287.60,308.55 L289.18,308.55 L289.18,307.24 L290.76,307.24 L290.76,306.85 L292.34,306.85 L292.34,303.88 L293.93,303.88 L293.93,301.91 L295.51,301.91 L295.51,300.06 L297.09,300.06 L297.09,298.28 L298.67,298.28 L298.67,295.87 L300.25,295.87 L300.25,293.48 L301.83,293.48 L301.83,292.17 L303.41,292.17 L303.41,291.77 L304.99,291.77 L304.99,291.39 L306.58,291.39 L306.58,291.00 L308.16,291.00 L308.16,289.56 L309.74,289.56 L309.74,287.61 L311.32,287.61 L311.32,288.06 L312.90,288.06 L312.90,288.79 L314.48,288.79 L314.48,291.14 L316.06,291.14 L316.06,294.15 L317.64,294.15 L317.64,296.08 L319.23,296.08 L319.23,299.30 L320.81,299.30 L320.81,301.84 L322.39,301.84 L322.39,303.52 L323.97,303.52 L323.97,304.21 L325.55,304.21 L325.55,305.06 L327.13,305.06 L327.13,305.49 L328.71,305.49 L328.71,306.50 L330.29,306.50 L330.29,307.16 L331.88,307.16 L331.88,309.09 L333.46,309.09 L333.46,310.09 L335.04,310.09 L335.04,311.01 L336.62,311.01 L336.62,312.00 L338.20,312.00 L338.20,312.88 L339.78,312.88 L339.78,313.29 L341.36,313.29 L341.36,314.11 L342.94,314.11 L342.94,315.00 L344.53,315.00 L344.53,315.78 L346.11,315.78 L346.11,316.50 L347.69,316.50 L347.69,316.88 L349.27,316.88 L349.27,317.30 L350.85,317.30 L350.85,317.55 L352.43,317.55 L352.43,317.72 L353.38,317.72" fill="none" stroke="#a2a2a2" stroke-width="1.15" stroke-linejoin="round"/><path d="M288.50,317.80 L288.50,237.60 L288.50,252.04 L289.70,252.04 L289.70,267.27 L290.38,269.30 L290.76,269.30 L290.76,272.24 L292.34,272.24 L292.34,278.79 L293.93,278.79 L293.93,284.97 L295.51,284.97 L295.51,289.88 L297.09,289.88 L297.09,297.44 L298.67,297.44 L298.67,301.67 L300.25,301.67 L300.25,304.29 L301.83,304.29 L301.83,306.99 L303.41,306.99 L303.41,308.96 L304.99,308.96 L304.99,310.29 L306.58,310.29 L306.58,311.56 L308.16,311.56 L308.16,312.39 L309.74,312.39 L309.74,313.21 L311.32,313.21 L311.32,313.52 L312.90,313.52 L312.90,314.31 L314.48,314.31 L314.48,314.78 L316.06,314.78 L316.06,315.26 L317.64,315.26 L317.64,315.49 L319.23,315.49 L319.23,315.66 L320.81,315.66 L320.81,315.85 L322.39,315.85 L322.39,316.26 L323.97,316.26 L323.97,316.21 L325.55,316.21 L325.55,316.46 L327.13,316.46 L327.13,316.64 L328.71,316.64 L328.71,316.76 L330.29,316.76 L330.29,316.66 L331.88,316.66 L331.88,317.00 L333.46,317.00 L333.46,317.28 L335.04,317.28 L335.04,317.47 L336.62,317.47 L336.62,317.51 L338.20,317.51 L338.20,317.75 L339.47,317.75" fill="none" stroke="#000" stroke-width="2.3" stroke-linejoin="miter" stroke-miterlimit="2"/><path d="M287.60,237.60 V317.80 H388.80" fill="none" stroke="#000" stroke-width="1.6"/><line x1="284.60" y1="317.80" x2="287.60" y2="317.80" stroke="#000" stroke-width="1"/><text class="t" x="284.20" y="320.60" font-size="7" text-anchor="end">0</text><line x1="284.60" y1="301.76" x2="287.60" y2="301.76" stroke="#000" stroke-width="1"/><text class="t" x="284.20" y="304.56" font-size="7" text-anchor="end">20</text><line x1="284.60" y1="285.72" x2="287.60" y2="285.72" stroke="#000" stroke-width="1"/><text class="t" x="284.20" y="288.52" font-size="7" text-anchor="end">40</text><line x1="284.60" y1="269.68" x2="287.60" y2="269.68" stroke="#000" stroke-width="1"/><text class="t" x="284.20" y="272.48" font-size="7" text-anchor="end">60</text><line x1="284.60" y1="253.64" x2="287.60" y2="253.64" stroke="#000" stroke-width="1"/><text class="t" x="284.20" y="256.44" font-size="7" text-anchor="end">80</text><line x1="284.60" y1="237.60" x2="287.60" y2="237.60" stroke="#000" stroke-width="1"/><text class="t" x="284.20" y="240.40" font-size="7" text-anchor="end">100</text><line x1="287.60" y1="317.80" x2="287.60" y2="320.40" stroke="#000" stroke-width="1"/><text class="t" x="288.90" y="327.10" font-size="7" text-anchor="middle">10<tspan font-size="6.2" dy="-2.6" style="stroke-width:0.1px">0</tspan></text><line x1="295.22" y1="317.80" x2="295.22" y2="320.10" stroke="#000" stroke-width="0.9"/><line x1="299.67" y1="317.80" x2="299.67" y2="320.10" stroke="#000" stroke-width="0.9"/><line x1="302.83" y1="317.80" x2="302.83" y2="320.10" stroke="#000" stroke-width="0.9"/><line x1="305.28" y1="317.80" x2="305.28" y2="320.10" stroke="#000" stroke-width="0.9"/><line x1="307.29" y1="317.80" x2="307.29" y2="320.10" stroke="#000" stroke-width="0.9"/><line x1="308.98" y1="317.80" x2="308.98" y2="320.10" stroke="#000" stroke-width="0.9"/><line x1="310.45" y1="317.80" x2="310.45" y2="320.10" stroke="#000" stroke-width="0.9"/><line x1="311.74" y1="317.80" x2="311.74" y2="320.10" stroke="#000" stroke-width="0.9"/><line x1="312.90" y1="317.80" x2="312.90" y2="320.40" stroke="#000" stroke-width="1"/><text class="t" x="313.30" y="327.10" font-size="7" text-anchor="middle">10<tspan font-size="6.2" dy="-2.6" style="stroke-width:0.1px">1</tspan></text><line x1="320.52" y1="317.80" x2="320.52" y2="320.10" stroke="#000" stroke-width="0.9"/><line x1="324.97" y1="317.80" x2="324.97" y2="320.10" stroke="#000" stroke-width="0.9"/><line x1="328.13" y1="317.80" x2="328.13" y2="320.10" stroke="#000" stroke-width="0.9"/><line x1="330.58" y1="317.80" x2="330.58" y2="320.10" stroke="#000" stroke-width="0.9"/><line x1="332.59" y1="317.80" x2="332.59" y2="320.10" stroke="#000" stroke-width="0.9"/><line x1="334.28" y1="317.80" x2="334.28" y2="320.10" stroke="#000" stroke-width="0.9"/><line x1="335.75" y1="317.80" x2="335.75" y2="320.10" stroke="#000" stroke-width="0.9"/><line x1="337.04" y1="317.80" x2="337.04" y2="320.10" stroke="#000" stroke-width="0.9"/><line x1="338.20" y1="317.80" x2="338.20" y2="320.40" stroke="#000" stroke-width="1"/><text class="t" x="338.60" y="327.10" font-size="7" text-anchor="middle">10<tspan font-size="6.2" dy="-2.6" style="stroke-width:0.1px">2</tspan></text><line x1="345.82" y1="317.80" x2="345.82" y2="320.10" stroke="#000" stroke-width="0.9"/><line x1="350.27" y1="317.80" x2="350.27" y2="320.10" stroke="#000" stroke-width="0.9"/><line x1="353.43" y1="317.80" x2="353.43" y2="320.10" stroke="#000" stroke-width="0.9"/><line x1="355.88" y1="317.80" x2="355.88" y2="320.10" stroke="#000" stroke-width="0.9"/><line x1="357.89" y1="317.80" x2="357.89" y2="320.10" stroke="#000" stroke-width="0.9"/><line x1="359.58" y1="317.80" x2="359.58" y2="320.10" stroke="#000" stroke-width="0.9"/><line x1="361.05" y1="317.80" x2="361.05" y2="320.10" stroke="#000" stroke-width="0.9"/><line x1="362.34" y1="317.80" x2="362.34" y2="320.10" stroke="#000" stroke-width="0.9"/><line x1="363.50" y1="317.80" x2="363.50" y2="320.40" stroke="#000" stroke-width="1"/><text class="t" x="363.90" y="327.10" font-size="7" text-anchor="middle">10<tspan font-size="6.2" dy="-2.6" style="stroke-width:0.1px">3</tspan></text><line x1="371.12" y1="317.80" x2="371.12" y2="320.10" stroke="#000" stroke-width="0.9"/><line x1="375.57" y1="317.80" x2="375.57" y2="320.10" stroke="#000" stroke-width="0.9"/><line x1="378.73" y1="317.80" x2="378.73" y2="320.10" stroke="#000" stroke-width="0.9"/><line x1="381.18" y1="317.80" x2="381.18" y2="320.10" stroke="#000" stroke-width="0.9"/><line x1="383.19" y1="317.80" x2="383.19" y2="320.10" stroke="#000" stroke-width="0.9"/><line x1="384.88" y1="317.80" x2="384.88" y2="320.10" stroke="#000" stroke-width="0.9"/><line x1="386.35" y1="317.80" x2="386.35" y2="320.10" stroke="#000" stroke-width="0.9"/><line x1="387.64" y1="317.80" x2="387.64" y2="320.10" stroke="#000" stroke-width="0.9"/><line x1="388.80" y1="317.80" x2="388.80" y2="320.40" stroke="#000" stroke-width="1"/><text class="t" x="389.20" y="327.10" font-size="7" text-anchor="middle">10<tspan font-size="6.2" dy="-2.6" style="stroke-width:0.1px">4</tspan></text><text x="338.20" y="337.50" class="b" font-size="7.6" font-weight="bold" text-anchor="middle">F4/80 FITC</text></g>
<g><path d="M412.80,237.60 H514.00 V317.80" fill="none" stroke="#1c1c1c" stroke-width="1.5"/><path d="M412.80,315.21 L414.38,315.21 L414.38,314.05 L415.96,314.05 L415.96,312.58 L417.54,312.58 L417.54,311.40 L419.12,311.40 L419.12,309.12 L420.71,309.12 L420.71,308.32 L422.29,308.32 L422.29,305.91 L423.87,305.91 L423.87,304.44 L425.45,304.44 L425.45,302.78 L427.03,302.78 L427.03,301.17 L428.61,301.17 L428.61,299.72 L430.19,299.72 L430.19,298.07 L431.78,298.07 L431.78,295.92 L433.36,295.92 L433.36,293.23 L434.94,293.23 L434.94,292.40 L436.52,292.40 L436.52,290.65 L438.10,290.65 L438.10,289.43 L439.68,289.43 L439.68,288.54 L441.26,288.54 L441.26,289.58 L442.84,289.58 L442.84,291.00 L444.43,291.00 L444.43,292.21 L446.01,292.21 L446.01,289.78 L447.59,289.78 L447.59,290.70 L449.17,290.70 L449.17,292.07 L450.75,292.07 L450.75,294.87 L452.33,294.87 L452.33,295.88 L453.91,295.88 L453.91,296.87 L455.49,296.87 L455.49,300.03 L457.07,300.03 L457.07,304.00 L458.66,304.00 L458.66,306.91 L460.24,306.91 L460.24,310.09 L461.82,310.09 L461.82,311.66 L463.40,311.66 L463.40,312.72 L464.98,312.72 L464.98,313.54 L466.56,313.54 L466.56,314.21 L468.14,314.21 L468.14,315.44 L469.73,315.44 L469.73,316.27 L471.31,316.27 L471.31,317.11 L472.89,317.11 L472.89,317.65 L474.03,317.65" fill="none" stroke="#a2a2a2" stroke-width="1.15" stroke-linejoin="round"/><path d="M413.70,317.80 L413.70,237.60 L413.70,252.04 L414.90,252.04 L414.90,267.27 L415.33,267.63 L415.96,267.63 L415.96,271.05 L417.54,271.05 L417.54,277.85 L419.12,277.85 L419.12,283.94 L420.71,283.94 L420.71,290.58 L422.29,290.58 L422.29,296.46 L423.87,296.46 L423.87,300.64 L425.45,300.64 L425.45,304.87 L427.03,304.87 L427.03,306.58 L428.61,306.58 L428.61,309.31 L430.19,309.31 L430.19,310.48 L431.78,310.48 L431.78,311.27 L433.36,311.27 L433.36,312.14 L434.94,312.14 L434.94,313.06 L436.52,313.06 L436.52,313.15 L438.10,313.15 L438.10,313.90 L439.68,313.90 L439.68,314.54 L441.26,314.54 L441.26,314.76 L442.84,314.76 L442.84,315.24 L444.43,315.24 L444.43,315.40 L446.01,315.40 L446.01,315.95 L447.59,315.95 L447.59,316.03 L449.17,316.03 L449.17,316.54 L450.75,316.54 L450.75,316.47 L452.33,316.47 L452.33,316.77 L453.91,316.77 L453.91,316.91 L455.49,316.91 L455.49,317.31 L457.07,317.31 L457.07,317.62 L458.66,317.62 L458.66,317.76 L459.61,317.76" fill="none" stroke="#000" stroke-width="2.3" stroke-linejoin="miter" stroke-miterlimit="2"/><path d="M412.80,237.60 V317.80 H514.00" fill="none" stroke="#000" stroke-width="1.6"/><line x1="409.80" y1="317.80" x2="412.80" y2="317.80" stroke="#000" stroke-width="1"/><text class="t" x="409.40" y="320.60" font-size="7" text-anchor="end">0</text><line x1="409.80" y1="301.76" x2="412.80" y2="301.76" stroke="#000" stroke-width="1"/><text class="t" x="409.40" y="304.56" font-size="7" text-anchor="end">20</text><line x1="409.80" y1="285.72" x2="412.80" y2="285.72" stroke="#000" stroke-width="1"/><text class="t" x="409.40" y="288.52" font-size="7" text-anchor="end">40</text><line x1="409.80" y1="269.68" x2="412.80" y2="269.68" stroke="#000" stroke-width="1"/><text class="t" x="409.40" y="272.48" font-size="7" text-anchor="end">60</text><line x1="409.80" y1="253.64" x2="412.80" y2="253.64" stroke="#000" stroke-width="1"/><text class="t" x="409.40" y="256.44" font-size="7" text-anchor="end">90</text><line x1="409.80" y1="237.60" x2="412.80" y2="237.60" stroke="#000" stroke-width="1"/><text class="t" x="409.40" y="240.40" font-size="7" text-anchor="end">100</text><line x1="412.80" y1="317.80" x2="412.80" y2="320.40" stroke="#000" stroke-width="1"/><text class="t" x="414.10" y="327.10" font-size="7" text-anchor="middle">10<tspan font-size="6.2" dy="-2.6" style="stroke-width:0.1px">0</tspan></text><line x1="420.42" y1="317.80" x2="420.42" y2="320.10" stroke="#000" stroke-width="0.9"/><line x1="424.87" y1="317.80" x2="424.87" y2="320.10" stroke="#000" stroke-width="0.9"/><line x1="428.03" y1="317.80" x2="428.03" y2="320.10" stroke="#000" stroke-width="0.9"/><line x1="430.48" y1="317.80" x2="430.48" y2="320.10" stroke="#000" stroke-width="0.9"/><line x1="432.49" y1="317.80" x2="432.49" y2="320.10" stroke="#000" stroke-width="0.9"/><line x1="434.18" y1="317.80" x2="434.18" y2="320.10" stroke="#000" stroke-width="0.9"/><line x1="435.65" y1="317.80" x2="435.65" y2="320.10" stroke="#000" stroke-width="0.9"/><line x1="436.94" y1="317.80" x2="436.94" y2="320.10" stroke="#000" stroke-width="0.9"/><line x1="438.10" y1="317.80" x2="438.10" y2="320.40" stroke="#000" stroke-width="1"/><text class="t" x="438.50" y="327.10" font-size="7" text-anchor="middle">10<tspan font-size="6.2" dy="-2.6" style="stroke-width:0.1px">1</tspan></text><line x1="445.72" y1="317.80" x2="445.72" y2="320.10" stroke="#000" stroke-width="0.9"/><line x1="450.17" y1="317.80" x2="450.17" y2="320.10" stroke="#000" stroke-width="0.9"/><line x1="453.33" y1="317.80" x2="453.33" y2="320.10" stroke="#000" stroke-width="0.9"/><line x1="455.78" y1="317.80" x2="455.78" y2="320.10" stroke="#000" stroke-width="0.9"/><line x1="457.79" y1="317.80" x2="457.79" y2="320.10" stroke="#000" stroke-width="0.9"/><line x1="459.48" y1="317.80" x2="459.48" y2="320.10" stroke="#000" stroke-width="0.9"/><line x1="460.95" y1="317.80" x2="460.95" y2="320.10" stroke="#000" stroke-width="0.9"/><line x1="462.24" y1="317.80" x2="462.24" y2="320.10" stroke="#000" stroke-width="0.9"/><line x1="463.40" y1="317.80" x2="463.40" y2="320.40" stroke="#000" stroke-width="1"/><text class="t" x="463.80" y="327.10" font-size="7" text-anchor="middle">10<tspan font-size="6.2" dy="-2.6" style="stroke-width:0.1px">2</tspan></text><line x1="471.02" y1="317.80" x2="471.02" y2="320.10" stroke="#000" stroke-width="0.9"/><line x1="475.47" y1="317.80" x2="475.47" y2="320.10" stroke="#000" stroke-width="0.9"/><line x1="478.63" y1="317.80" x2="478.63" y2="320.10" stroke="#000" stroke-width="0.9"/><line x1="481.08" y1="317.80" x2="481.08" y2="320.10" stroke="#000" stroke-width="0.9"/><line x1="483.09" y1="317.80" x2="483.09" y2="320.10" stroke="#000" stroke-width="0.9"/><line x1="484.78" y1="317.80" x2="484.78" y2="320.10" stroke="#000" stroke-width="0.9"/><line x1="486.25" y1="317.80" x2="486.25" y2="320.10" stroke="#000" stroke-width="0.9"/><line x1="487.54" y1="317.80" x2="487.54" y2="320.10" stroke="#000" stroke-width="0.9"/><line x1="488.70" y1="317.80" x2="488.70" y2="320.40" stroke="#000" stroke-width="1"/><text class="t" x="489.10" y="327.10" font-size="7" text-anchor="middle">10<tspan font-size="6.2" dy="-2.6" style="stroke-width:0.1px">3</tspan></text><line x1="496.32" y1="317.80" x2="496.32" y2="320.10" stroke="#000" stroke-width="0.9"/><line x1="500.77" y1="317.80" x2="500.77" y2="320.10" stroke="#000" stroke-width="0.9"/><line x1="503.93" y1="317.80" x2="503.93" y2="320.10" stroke="#000" stroke-width="0.9"/><line x1="506.38" y1="317.80" x2="506.38" y2="320.10" stroke="#000" stroke-width="0.9"/><line x1="508.39" y1="317.80" x2="508.39" y2="320.10" stroke="#000" stroke-width="0.9"/><line x1="510.08" y1="317.80" x2="510.08" y2="320.10" stroke="#000" stroke-width="0.9"/><line x1="511.55" y1="317.80" x2="511.55" y2="320.10" stroke="#000" stroke-width="0.9"/><line x1="512.84" y1="317.80" x2="512.84" y2="320.10" stroke="#000" stroke-width="0.9"/><line x1="514.00" y1="317.80" x2="514.00" y2="320.40" stroke="#000" stroke-width="1"/><text class="t" x="514.40" y="327.10" font-size="7" text-anchor="middle">10<tspan font-size="6.2" dy="-2.6" style="stroke-width:0.1px">4</tspan></text><text x="463.40" y="337.50" class="b" font-size="7.6" font-weight="bold" text-anchor="middle">Ly-G6 FITC</text></g>
<text x="2.10" y="243.90" font-size="17.2" font-weight="bold">C</text>
<g><path d="M37.60,353.90 H138.80 V434.10" fill="none" stroke="#1c1c1c" stroke-width="1.5"/><path d="M61.64,433.14 L62.90,433.14 L62.90,431.40 L64.48,431.40 L64.48,429.95 L66.06,429.95 L66.06,428.88 L67.64,428.88 L67.64,426.44 L69.22,426.44 L69.22,423.76 L70.81,423.76 L70.81,420.76 L72.39,420.76 L72.39,418.58 L73.97,418.58 L73.97,413.74 L75.55,413.74 L75.55,407.67 L77.13,407.67 L77.13,404.58 L78.71,404.58 L78.71,404.60 L80.29,404.60 L80.29,402.60 L81.88,402.60 L81.88,405.37 L83.46,405.37 L83.46,407.03 L85.04,407.03 L85.04,412.20 L86.62,412.20 L86.62,417.54 L88.20,417.54 L88.20,423.16 L89.78,423.16 L89.78,425.32 L91.36,425.32 L91.36,427.63 L92.94,427.63 L92.94,429.02 L94.53,429.02 L94.53,429.58 L96.11,429.58 L96.11,429.88 L97.69,429.88 L97.69,429.97 L99.27,429.97 L99.27,431.01 L100.85,431.01 L100.85,432.09 L102.43,432.09 L102.43,432.85 L104.01,432.85 L104.01,432.99 L105.59,432.99 L105.59,433.00 L107.18,433.00 L107.18,432.96 L108.76,432.96 L108.76,433.19 L110.34,433.19 L110.34,432.93 L111.92,432.93 L111.92,433.12 L113.50,433.12 L113.50,433.05 L115.08,433.05 L115.08,432.92 L116.66,432.92 L116.66,432.44 L118.24,432.44 L118.24,431.24 L119.83,431.24 L119.83,430.95 L121.41,430.95 L121.41,430.01 L122.99,430.01 L122.99,430.35 L124.57,430.35 L124.57,429.73 L126.15,429.73 L126.15,429.26 L127.73,429.26 L127.73,429.36 L129.31,429.36 L129.31,429.23 L130.89,429.23 L130.89,429.12 L132.47,429.12 L132.47,428.67 L134.06,428.67 L134.06,429.27 L135.64,429.27 L135.64,429.11 L137.22,429.11 L137.22,429.62 L137.79,429.62" fill="none" stroke="#939393" stroke-width="1.35" stroke-linejoin="round"/><path d="M42.15,434.08 L42.34,434.08 L42.34,433.54 L43.93,433.54 L43.93,431.70 L45.51,431.70 L45.51,430.52 L47.09,430.52 L47.09,429.33 L48.67,429.33 L48.67,428.33 L50.25,428.33 L50.25,425.76 L51.83,425.76 L51.83,422.08 L53.41,422.08 L53.41,418.02 L54.99,418.02 L54.99,416.00 L56.58,416.00 L56.58,413.70 L58.16,413.70 L58.16,409.78 L59.74,409.78 L59.74,406.20 L61.32,406.20 L61.32,405.78 L62.90,405.78 L62.90,407.13 L64.48,407.13 L64.48,409.04 L66.06,409.04 L66.06,414.28 L67.64,414.28 L67.64,416.95 L69.22,416.95 L69.22,419.12 L70.81,419.12 L70.81,420.07 L72.39,420.07 L72.39,423.22 L73.97,423.22 L73.97,426.12 L75.55,426.12 L75.55,429.14 L77.13,429.14 L77.13,430.83 L78.71,430.83 L78.71,432.45 L80.29,432.45 L80.29,433.14 L81.88,433.14 L81.88,433.89 L83.14,433.89" fill="none" stroke="#000" stroke-width="2.3" stroke-linejoin="miter" stroke-miterlimit="2"/><path d="M37.60,353.90 V434.10 H138.80" fill="none" stroke="#000" stroke-width="1.6"/><line x1="34.60" y1="434.10" x2="37.60" y2="434.10" stroke="#000" stroke-width="1"/><text class="t" x="34.20" y="436.90" font-size="7" text-anchor="end">0</text><line x1="34.60" y1="418.06" x2="37.60" y2="418.06" stroke="#000" stroke-width="1"/><text class="t" x="34.20" y="420.86" font-size="7" text-anchor="end">10</text><line x1="34.60" y1="402.02" x2="37.60" y2="402.02" stroke="#000" stroke-width="1"/><text class="t" x="34.20" y="404.82" font-size="7" text-anchor="end">20</text><line x1="34.60" y1="385.98" x2="37.60" y2="385.98" stroke="#000" stroke-width="1"/><text class="t" x="34.20" y="388.78" font-size="7" text-anchor="end">30</text><line x1="34.60" y1="369.94" x2="37.60" y2="369.94" stroke="#000" stroke-width="1"/><text class="t" x="34.20" y="372.74" font-size="7" text-anchor="end">40</text><line x1="34.60" y1="353.90" x2="37.60" y2="353.90" stroke="#000" stroke-width="1"/><text class="t" x="34.20" y="356.70" font-size="7" text-anchor="end">50</text><line x1="37.60" y1="434.10" x2="37.60" y2="436.70" stroke="#000" stroke-width="1"/><text class="t" x="38.90" y="443.40" font-size="7" text-anchor="middle">10<tspan font-size="6.2" dy="-2.6" style="stroke-width:0.1px">0</tspan></text><line x1="45.22" y1="434.10" x2="45.22" y2="436.40" stroke="#000" stroke-width="0.9"/><line x1="49.67" y1="434.10" x2="49.67" y2="436.40" stroke="#000" stroke-width="0.9"/><line x1="52.83" y1="434.10" x2="52.83" y2="436.40" stroke="#000" stroke-width="0.9"/><line x1="55.28" y1="434.10" x2="55.28" y2="436.40" stroke="#000" stroke-width="0.9"/><line x1="57.29" y1="434.10" x2="57.29" y2="436.40" stroke="#000" stroke-width="0.9"/><line x1="58.98" y1="434.10" x2="58.98" y2="436.40" stroke="#000" stroke-width="0.9"/><line x1="60.45" y1="434.10" x2="60.45" y2="436.40" stroke="#000" stroke-width="0.9"/><line x1="61.74" y1="434.10" x2="61.74" y2="436.40" stroke="#000" stroke-width="0.9"/><line x1="62.90" y1="434.10" x2="62.90" y2="436.70" stroke="#000" stroke-width="1"/><text class="t" x="63.30" y="443.40" font-size="7" text-anchor="middle">10<tspan font-size="6.2" dy="-2.6" style="stroke-width:0.1px">1</tspan></text><line x1="70.52" y1="434.10" x2="70.52" y2="436.40" stroke="#000" stroke-width="0.9"/><line x1="74.97" y1="434.10" x2="74.97" y2="436.40" stroke="#000" stroke-width="0.9"/><line x1="78.13" y1="434.10" x2="78.13" y2="436.40" stroke="#000" stroke-width="0.9"/><line x1="80.58" y1="434.10" x2="80.58" y2="436.40" stroke="#000" stroke-width="0.9"/><line x1="82.59" y1="434.10" x2="82.59" y2="436.40" stroke="#000" stroke-width="0.9"/><line x1="84.28" y1="434.10" x2="84.28" y2="436.40" stroke="#000" stroke-width="0.9"/><line x1="85.75" y1="434.10" x2="85.75" y2="436.40" stroke="#000" stroke-width="0.9"/><line x1="87.04" y1="434.10" x2="87.04" y2="436.40" stroke="#000" stroke-width="0.9"/><line x1="88.20" y1="434.10" x2="88.20" y2="436.70" stroke="#000" stroke-width="1"/><text class="t" x="88.60" y="443.40" font-size="7" text-anchor="middle">10<tspan font-size="6.2" dy="-2.6" style="stroke-width:0.1px">2</tspan></text><line x1="95.82" y1="434.10" x2="95.82" y2="436.40" stroke="#000" stroke-width="0.9"/><line x1="100.27" y1="434.10" x2="100.27" y2="436.40" stroke="#000" stroke-width="0.9"/><line x1="103.43" y1="434.10" x2="103.43" y2="436.40" stroke="#000" stroke-width="0.9"/><line x1="105.88" y1="434.10" x2="105.88" y2="436.40" stroke="#000" stroke-width="0.9"/><line x1="107.89" y1="434.10" x2="107.89" y2="436.40" stroke="#000" stroke-width="0.9"/><line x1="109.58" y1="434.10" x2="109.58" y2="436.40" stroke="#000" stroke-width="0.9"/><line x1="111.05" y1="434.10" x2="111.05" y2="436.40" stroke="#000" stroke-width="0.9"/><line x1="112.34" y1="434.10" x2="112.34" y2="436.40" stroke="#000" stroke-width="0.9"/><line x1="113.50" y1="434.10" x2="113.50" y2="436.70" stroke="#000" stroke-width="1"/><text class="t" x="113.90" y="443.40" font-size="7" text-anchor="middle">10<tspan font-size="6.2" dy="-2.6" style="stroke-width:0.1px">3</tspan></text><line x1="121.12" y1="434.10" x2="121.12" y2="436.40" stroke="#000" stroke-width="0.9"/><line x1="125.57" y1="434.10" x2="125.57" y2="436.40" stroke="#000" stroke-width="0.9"/><line x1="128.73" y1="434.10" x2="128.73" y2="436.40" stroke="#000" stroke-width="0.9"/><line x1="131.18" y1="434.10" x2="131.18" y2="436.40" stroke="#000" stroke-width="0.9"/><line x1="133.19" y1="434.10" x2="133.19" y2="436.40" stroke="#000" stroke-width="0.9"/><line x1="134.88" y1="434.10" x2="134.88" y2="436.40" stroke="#000" stroke-width="0.9"/><line x1="136.35" y1="434.10" x2="136.35" y2="436.40" stroke="#000" stroke-width="0.9"/><line x1="137.64" y1="434.10" x2="137.64" y2="436.40" stroke="#000" stroke-width="0.9"/><line x1="138.80" y1="434.10" x2="138.80" y2="436.70" stroke="#000" stroke-width="1"/><text class="t" x="139.20" y="443.40" font-size="7" text-anchor="middle">10<tspan font-size="6.2" dy="-2.6" style="stroke-width:0.1px">4</tspan></text><text x="88.20" y="453.80" class="b" font-size="7.6" font-weight="bold" text-anchor="middle">FITC-Plasminogen</text><text transform="translate(21.2,394.40) rotate(-90)" class="b" font-size="7.6" font-weight="bold" text-anchor="middle">Counts</text></g>
<g><path d="M162.70,353.90 H263.90 V434.10" fill="none" stroke="#1c1c1c" stroke-width="1.5"/><path d="M195.59,433.85 L195.91,433.85 L195.91,432.77 L197.49,432.77 L197.49,431.30 L199.07,431.30 L199.07,430.72 L200.65,430.72 L200.65,429.20 L202.23,429.20 L202.23,427.80 L203.81,427.80 L203.81,424.52 L205.39,424.52 L205.39,420.51 L206.97,420.51 L206.97,416.93 L208.56,416.93 L208.56,413.93 L210.14,413.93 L210.14,409.15 L211.72,409.15 L211.72,405.19 L213.30,405.19 L213.30,405.47 L214.88,405.47 L214.88,401.23 L216.46,401.23 L216.46,400.55 L218.04,400.55 L218.04,404.47 L219.62,404.47 L219.62,403.43 L221.21,403.43 L221.21,403.96 L222.79,403.96 L222.79,406.61 L224.37,406.61 L224.37,413.47 L225.95,413.47 L225.95,417.85 L227.53,417.85 L227.53,422.73 L229.11,422.73 L229.11,426.76 L230.69,426.76 L230.69,430.05 L232.27,430.05 L232.27,431.16 L233.86,431.16 L233.86,431.91 L235.44,431.91 L235.44,433.64 L236.58,433.64" fill="none" stroke="#a2a2a2" stroke-width="1.15" stroke-linejoin="round"/><path d="M163.60,434.10 L163.60,425.28 L163.46,427.29 L164.28,427.29 L164.28,429.09 L165.86,429.09 L165.86,430.62 L167.44,430.62 L167.44,430.06 L169.02,430.06 L169.02,429.00 L170.61,429.00 L170.61,427.67 L172.19,427.67 L172.19,426.17 L173.77,426.17 L173.77,423.92 L175.35,423.92 L175.35,420.23 L176.93,420.23 L176.93,417.35 L178.51,417.35 L178.51,411.89 L180.09,411.89 L180.09,408.73 L181.67,408.73 L181.67,403.89 L183.26,403.89 L183.26,401.89 L184.84,401.89 L184.84,400.86 L186.42,400.86 L186.42,405.40 L188.00,405.40 L188.00,410.78 L189.58,410.78 L189.58,417.42 L191.16,417.42 L191.16,425.48 L192.74,425.48 L192.74,430.54 L194.32,430.54 L194.32,432.03 L195.91,432.03 L195.91,433.05 L197.49,433.05 L197.49,433.10 L199.07,433.10 L199.07,433.81 L200.65,433.81" fill="none" stroke="#000" stroke-width="2.3" stroke-linejoin="miter" stroke-miterlimit="2"/><path d="M162.70,353.90 V434.10 H263.90" fill="none" stroke="#000" stroke-width="1.6"/><line x1="159.70" y1="434.10" x2="162.70" y2="434.10" stroke="#000" stroke-width="1"/><text class="t" x="159.30" y="436.90" font-size="7" text-anchor="end">0</text><line x1="159.70" y1="418.06" x2="162.70" y2="418.06" stroke="#000" stroke-width="1"/><text class="t" x="159.30" y="420.86" font-size="7" text-anchor="end">10</text><line x1="159.70" y1="402.02" x2="162.70" y2="402.02" stroke="#000" stroke-width="1"/><text class="t" x="159.30" y="404.82" font-size="7" text-anchor="end">20</text><line x1="159.70" y1="385.98" x2="162.70" y2="385.98" stroke="#000" stroke-width="1"/><text class="t" x="159.30" y="388.78" font-size="7" text-anchor="end">30</text><line x1="159.70" y1="369.94" x2="162.70" y2="369.94" stroke="#000" stroke-width="1"/><text class="t" x="159.30" y="372.74" font-size="7" text-anchor="end">40</text><line x1="159.70" y1="353.90" x2="162.70" y2="353.90" stroke="#000" stroke-width="1"/><text class="t" x="159.30" y="356.70" font-size="7" text-anchor="end">50</text><line x1="162.70" y1="434.10" x2="162.70" y2="436.70" stroke="#000" stroke-width="1"/><text class="t" x="164.00" y="443.40" font-size="7" text-anchor="middle">10<tspan font-size="6.2" dy="-2.6" style="stroke-width:0.1px">0</tspan></text><line x1="170.32" y1="434.10" x2="170.32" y2="436.40" stroke="#000" stroke-width="0.9"/><line x1="174.77" y1="434.10" x2="174.77" y2="436.40" stroke="#000" stroke-width="0.9"/><line x1="177.93" y1="434.10" x2="177.93" y2="436.40" stroke="#000" stroke-width="0.9"/><line x1="180.38" y1="434.10" x2="180.38" y2="436.40" stroke="#000" stroke-width="0.9"/><line x1="182.39" y1="434.10" x2="182.39" y2="436.40" stroke="#000" stroke-width="0.9"/><line x1="184.08" y1="434.10" x2="184.08" y2="436.40" stroke="#000" stroke-width="0.9"/><line x1="185.55" y1="434.10" x2="185.55" y2="436.40" stroke="#000" stroke-width="0.9"/><line x1="186.84" y1="434.10" x2="186.84" y2="436.40" stroke="#000" stroke-width="0.9"/><line x1="188.00" y1="434.10" x2="188.00" y2="436.70" stroke="#000" stroke-width="1"/><text class="t" x="188.40" y="443.40" font-size="7" text-anchor="middle">10<tspan font-size="6.2" dy="-2.6" style="stroke-width:0.1px">1</tspan></text><line x1="195.62" y1="434.10" x2="195.62" y2="436.40" stroke="#000" stroke-width="0.9"/><line x1="200.07" y1="434.10" x2="200.07" y2="436.40" stroke="#000" stroke-width="0.9"/><line x1="203.23" y1="434.10" x2="203.23" y2="436.40" stroke="#000" stroke-width="0.9"/><line x1="205.68" y1="434.10" x2="205.68" y2="436.40" stroke="#000" stroke-width="0.9"/><line x1="207.69" y1="434.10" x2="207.69" y2="436.40" stroke="#000" stroke-width="0.9"/><line x1="209.38" y1="434.10" x2="209.38" y2="436.40" stroke="#000" stroke-width="0.9"/><line x1="210.85" y1="434.10" x2="210.85" y2="436.40" stroke="#000" stroke-width="0.9"/><line x1="212.14" y1="434.10" x2="212.14" y2="436.40" stroke="#000" stroke-width="0.9"/><line x1="213.30" y1="434.10" x2="213.30" y2="436.70" stroke="#000" stroke-width="1"/><text class="t" x="213.70" y="443.40" font-size="7" text-anchor="middle">10<tspan font-size="6.2" dy="-2.6" style="stroke-width:0.1px">2</tspan></text><line x1="220.92" y1="434.10" x2="220.92" y2="436.40" stroke="#000" stroke-width="0.9"/><line x1="225.37" y1="434.10" x2="225.37" y2="436.40" stroke="#000" stroke-width="0.9"/><line x1="228.53" y1="434.10" x2="228.53" y2="436.40" stroke="#000" stroke-width="0.9"/><line x1="230.98" y1="434.10" x2="230.98" y2="436.40" stroke="#000" stroke-width="0.9"/><line x1="232.99" y1="434.10" x2="232.99" y2="436.40" stroke="#000" stroke-width="0.9"/><line x1="234.68" y1="434.10" x2="234.68" y2="436.40" stroke="#000" stroke-width="0.9"/><line x1="236.15" y1="434.10" x2="236.15" y2="436.40" stroke="#000" stroke-width="0.9"/><line x1="237.44" y1="434.10" x2="237.44" y2="436.40" stroke="#000" stroke-width="0.9"/><line x1="238.60" y1="434.10" x2="238.60" y2="436.70" stroke="#000" stroke-width="1"/><text class="t" x="239.00" y="443.40" font-size="7" text-anchor="middle">10<tspan font-size="6.2" dy="-2.6" style="stroke-width:0.1px">3</tspan></text><line x1="246.22" y1="434.10" x2="246.22" y2="436.40" stroke="#000" stroke-width="0.9"/><line x1="250.67" y1="434.10" x2="250.67" y2="436.40" stroke="#000" stroke-width="0.9"/><line x1="253.83" y1="434.10" x2="253.83" y2="436.40" stroke="#000" stroke-width="0.9"/><line x1="256.28" y1="434.10" x2="256.28" y2="436.40" stroke="#000" stroke-width="0.9"/><line x1="258.29" y1="434.10" x2="258.29" y2="436.40" stroke="#000" stroke-width="0.9"/><line x1="259.98" y1="434.10" x2="259.98" y2="436.40" stroke="#000" stroke-width="0.9"/><line x1="261.45" y1="434.10" x2="261.45" y2="436.40" stroke="#000" stroke-width="0.9"/><line x1="262.74" y1="434.10" x2="262.74" y2="436.40" stroke="#000" stroke-width="0.9"/><line x1="263.90" y1="434.10" x2="263.90" y2="436.70" stroke="#000" stroke-width="1"/><text class="t" x="264.30" y="443.40" font-size="7" text-anchor="middle">10<tspan font-size="6.2" dy="-2.6" style="stroke-width:0.1px">4</tspan></text><text x="213.30" y="453.80" class="b" font-size="7.6" font-weight="bold" text-anchor="middle">CD11b FITC</text></g>
<g><path d="M287.60,353.90 H388.80 V434.10" fill="none" stroke="#1c1c1c" stroke-width="1.5"/><path d="M298.99,433.52 L300.25,433.52 L300.25,432.29 L301.83,432.29 L301.83,431.54 L303.41,431.54 L303.41,431.20 L304.99,431.20 L304.99,430.88 L306.58,430.88 L306.58,430.52 L308.16,430.52 L308.16,430.04 L309.74,430.04 L309.74,430.15 L311.32,430.15 L311.32,430.17 L312.90,430.17 L312.90,430.73 L314.48,430.73 L314.48,431.12 L316.06,431.12 L316.06,431.36 L317.64,431.36 L317.64,430.89 L319.23,430.89 L319.23,430.35 L320.81,430.35 L320.81,429.48 L322.39,429.48 L322.39,429.39 L323.97,429.39 L323.97,427.63 L325.55,427.63 L325.55,423.34 L327.13,423.34 L327.13,418.14 L328.71,418.14 L328.71,411.80 L330.29,411.80 L330.29,402.88 L331.88,402.88 L331.88,394.47 L333.46,394.47 L333.46,390.34 L335.04,390.34 L335.04,388.37 L336.62,388.37 L336.62,390.58 L338.20,390.58 L338.20,396.35 L339.78,396.35 L339.78,402.20 L341.36,402.20 L341.36,407.36 L342.94,407.36 L342.94,415.15 L344.53,415.15 L344.53,421.96 L346.11,421.96 L346.11,425.36 L347.69,425.36 L347.69,428.69 L349.27,428.69 L349.27,430.69 L350.85,430.69 L350.85,431.46 L352.43,431.46 L352.43,432.77 L354.01,432.77 L354.01,433.49 L355.59,433.49 L355.59,434.07 L355.91,434.07" fill="none" stroke="#a2a2a2" stroke-width="1.15" stroke-linejoin="round"/><path d="M288.50,434.10 L288.50,425.28 L288.61,425.90 L289.18,425.90 L289.18,428.25 L290.76,428.25 L290.76,429.97 L292.34,429.97 L292.34,429.57 L293.93,429.57 L293.93,429.03 L295.51,429.03 L295.51,427.55 L297.09,427.55 L297.09,426.63 L298.67,426.63 L298.67,422.15 L300.25,422.15 L300.25,420.24 L301.83,420.24 L301.83,416.99 L303.41,416.99 L303.41,413.47 L304.99,413.47 L304.99,409.03 L306.58,409.03 L306.58,404.77 L308.16,404.77 L308.16,400.64 L309.74,400.64 L309.74,400.97 L311.32,400.97 L311.32,403.90 L312.90,403.90 L312.90,407.64 L314.48,407.64 L314.48,417.25 L316.06,417.25 L316.06,426.07 L317.64,426.07 L317.64,430.14 L319.23,430.14 L319.23,431.69 L320.81,431.69 L320.81,432.58 L322.39,432.58 L322.39,432.58 L323.97,432.58 L323.97,433.54 L325.55,433.54" fill="none" stroke="#000" stroke-width="2.3" stroke-linejoin="miter" stroke-miterlimit="2"/><path d="M287.60,353.90 V434.10 H388.80" fill="none" stroke="#000" stroke-width="1.6"/><line x1="284.60" y1="434.10" x2="287.60" y2="434.10" stroke="#000" stroke-width="1"/><text class="t" x="284.20" y="436.90" font-size="7" text-anchor="end">0</text><line x1="284.60" y1="418.06" x2="287.60" y2="418.06" stroke="#000" stroke-width="1"/><text class="t" x="284.20" y="420.86" font-size="7" text-anchor="end">10</text><line x1="284.60" y1="402.02" x2="287.60" y2="402.02" stroke="#000" stroke-width="1"/><text class="t" x="284.20" y="404.82" font-size="7" text-anchor="end">20</text><line x1="284.60" y1="385.98" x2="287.60" y2="385.98" stroke="#000" stroke-width="1"/><text class="t" x="284.20" y="388.78" font-size="7" text-anchor="end">30</text><line x1="284.60" y1="369.94" x2="287.60" y2="369.94" stroke="#000" stroke-width="1"/><text class="t" x="284.20" y="372.74" font-size="7" text-anchor="end">40</text><line x1="284.60" y1="353.90" x2="287.60" y2="353.90" stroke="#000" stroke-width="1"/><text class="t" x="284.20" y="356.70" font-size="7" text-anchor="end">50</text><line x1="287.60" y1="434.10" x2="287.60" y2="436.70" stroke="#000" stroke-width="1"/><text class="t" x="288.90" y="443.40" font-size="7" text-anchor="middle">10<tspan font-size="6.2" dy="-2.6" style="stroke-width:0.1px">0</tspan></text><line x1="295.22" y1="434.10" x2="295.22" y2="436.40" stroke="#000" stroke-width="0.9"/><line x1="299.67" y1="434.10" x2="299.67" y2="436.40" stroke="#000" stroke-width="0.9"/><line x1="302.83" y1="434.10" x2="302.83" y2="436.40" stroke="#000" stroke-width="0.9"/><line x1="305.28" y1="434.10" x2="305.28" y2="436.40" stroke="#000" stroke-width="0.9"/><line x1="307.29" y1="434.10" x2="307.29" y2="436.40" stroke="#000" stroke-width="0.9"/><line x1="308.98" y1="434.10" x2="308.98" y2="436.40" stroke="#000" stroke-width="0.9"/><line x1="310.45" y1="434.10" x2="310.45" y2="436.40" stroke="#000" stroke-width="0.9"/><line x1="311.74" y1="434.10" x2="311.74" y2="436.40" stroke="#000" stroke-width="0.9"/><line x1="312.90" y1="434.10" x2="312.90" y2="436.70" stroke="#000" stroke-width="1"/><text class="t" x="313.30" y="443.40" font-size="7" text-anchor="middle">10<tspan font-size="6.2" dy="-2.6" style="stroke-width:0.1px">1</tspan></text><line x1="320.52" y1="434.10" x2="320.52" y2="436.40" stroke="#000" stroke-width="0.9"/><line x1="324.97" y1="434.10" x2="324.97" y2="436.40" stroke="#000" stroke-width="0.9"/><line x1="328.13" y1="434.10" x2="328.13" y2="436.40" stroke="#000" stroke-width="0.9"/><line x1="330.58" y1="434.10" x2="330.58" y2="436.40" stroke="#000" stroke-width="0.9"/><line x1="332.59" y1="434.10" x2="332.59" y2="436.40" stroke="#000" stroke-width="0.9"/><line x1="334.28" y1="434.10" x2="334.28" y2="436.40" stroke="#000" stroke-width="0.9"/><line x1="335.75" y1="434.10" x2="335.75" y2="436.40" stroke="#000" stroke-width="0.9"/><line x1="337.04" y1="434.10" x2="337.04" y2="436.40" stroke="#000" stroke-width="0.9"/><line x1="338.20" y1="434.10" x2="338.20" y2="436.70" stroke="#000" stroke-width="1"/><text class="t" x="338.60" y="443.40" font-size="7" text-anchor="middle">10<tspan font-size="6.2" dy="-2.6" style="stroke-width:0.1px">2</tspan></text><line x1="345.82" y1="434.10" x2="345.82" y2="436.40" stroke="#000" stroke-width="0.9"/><line x1="350.27" y1="434.10" x2="350.27" y2="436.40" stroke="#000" stroke-width="0.9"/><line x1="353.43" y1="434.10" x2="353.43" y2="436.40" stroke="#000" stroke-width="0.9"/><line x1="355.88" y1="434.10" x2="355.88" y2="436.40" stroke="#000" stroke-width="0.9"/><line x1="357.89" y1="434.10" x2="357.89" y2="436.40" stroke="#000" stroke-width="0.9"/><line x1="359.58" y1="434.10" x2="359.58" y2="436.40" stroke="#000" stroke-width="0.9"/><line x1="361.05" y1="434.10" x2="361.05" y2="436.40" stroke="#000" stroke-width="0.9"/><line x1="362.34" y1="434.10" x2="362.34" y2="436.40" stroke="#000" stroke-width="0.9"/><line x1="363.50" y1="434.10" x2="363.50" y2="436.70" stroke="#000" stroke-width="1"/><text class="t" x="363.90" y="443.40" font-size="7" text-anchor="middle">10<tspan font-size="6.2" dy="-2.6" style="stroke-width:0.1px">3</tspan></text><line x1="371.12" y1="434.10" x2="371.12" y2="436.40" stroke="#000" stroke-width="0.9"/><line x1="375.57" y1="434.10" x2="375.57" y2="436.40" stroke="#000" stroke-width="0.9"/><line x1="378.73" y1="434.10" x2="378.73" y2="436.40" stroke="#000" stroke-width="0.9"/><line x1="381.18" y1="434.10" x2="381.18" y2="436.40" stroke="#000" stroke-width="0.9"/><line x1="383.19" y1="434.10" x2="383.19" y2="436.40" stroke="#000" stroke-width="0.9"/><line x1="384.88" y1="434.10" x2="384.88" y2="436.40" stroke="#000" stroke-width="0.9"/><line x1="386.35" y1="434.10" x2="386.35" y2="436.40" stroke="#000" stroke-width="0.9"/><line x1="387.64" y1="434.10" x2="387.64" y2="436.40" stroke="#000" stroke-width="0.9"/><line x1="388.80" y1="434.10" x2="388.80" y2="436.70" stroke="#000" stroke-width="1"/><text class="t" x="389.20" y="443.40" font-size="7" text-anchor="middle">10<tspan font-size="6.2" dy="-2.6" style="stroke-width:0.1px">4</tspan></text><text x="338.20" y="453.80" class="b" font-size="7.6" font-weight="bold" text-anchor="middle">F4/80 FITC</text></g>
<g><path d="M412.80,353.90 H514.00 V434.10" fill="none" stroke="#1c1c1c" stroke-width="1.5"/><path d="M412.80,427.96 L414.38,427.96 L414.38,429.13 L415.96,429.13 L415.96,429.74 L417.54,429.74 L417.54,430.32 L419.12,430.32 L419.12,429.63 L420.71,429.63 L420.71,429.28 L422.29,429.28 L422.29,427.64 L423.87,427.64 L423.87,425.01 L425.45,425.01 L425.45,421.67 L427.03,421.67 L427.03,419.19 L428.61,419.19 L428.61,414.36 L430.19,414.36 L430.19,411.50 L431.78,411.50 L431.78,409.65 L433.36,409.65 L433.36,406.00 L434.94,406.00 L434.94,403.99 L436.52,403.99 L436.52,404.58 L438.10,404.58 L438.10,401.68 L439.68,401.68 L439.68,401.23 L441.26,401.23 L441.26,409.33 L442.84,409.33 L442.84,417.39 L444.43,417.39 L444.43,421.95 L446.01,421.95 L446.01,424.63 L447.59,424.63 L447.59,426.06 L449.17,426.06 L449.17,427.40 L450.75,427.40 L450.75,427.24 L452.33,427.24 L452.33,427.82 L453.91,427.82 L453.91,428.12 L455.49,428.12 L455.49,428.26 L457.07,428.26 L457.07,428.48 L458.66,428.48 L458.66,429.22 L460.24,429.22 L460.24,430.30 L461.82,430.30 L461.82,430.97 L463.40,430.97 L463.40,431.55 L464.98,431.55 L464.98,431.81 L466.56,431.81 L466.56,432.06 L468.14,432.06 L468.14,432.81 L469.73,432.81 L469.73,433.60 L470.99,433.60" fill="none" stroke="#a2a2a2" stroke-width="1.15" stroke-linejoin="round"/><path d="M413.70,434.10 L413.70,425.28 L414.06,425.75 L414.38,425.75 L414.38,427.53 L415.96,427.53 L415.96,429.65 L417.54,429.65 L417.54,429.88 L419.12,429.88 L419.12,429.93 L420.71,429.93 L420.71,429.23 L422.29,429.23 L422.29,426.09 L423.87,426.09 L423.87,423.49 L425.45,423.49 L425.45,421.67 L427.03,421.67 L427.03,418.47 L428.61,418.47 L428.61,413.99 L430.19,413.99 L430.19,409.27 L431.78,409.27 L431.78,403.99 L433.36,403.99 L433.36,399.95 L434.94,399.95 L434.94,402.21 L436.52,402.21 L436.52,404.26 L438.10,404.26 L438.10,410.70 L439.68,410.70 L439.68,420.44 L441.26,420.44 L441.26,427.09 L442.84,427.09 L442.84,430.74 L444.43,430.74 L444.43,431.68 L446.01,431.68 L446.01,432.38 L447.59,432.38 L447.59,432.61 L449.17,432.61 L449.17,433.54 L450.75,433.54" fill="none" stroke="#000" stroke-width="2.3" stroke-linejoin="miter" stroke-miterlimit="2"/><path d="M412.80,353.90 V434.10 H514.00" fill="none" stroke="#000" stroke-width="1.6"/><line x1="409.80" y1="434.10" x2="412.80" y2="434.10" stroke="#000" stroke-width="1"/><text class="t" x="409.40" y="436.90" font-size="7" text-anchor="end">0</text><line x1="409.80" y1="418.06" x2="412.80" y2="418.06" stroke="#000" stroke-width="1"/><text class="t" x="409.40" y="420.86" font-size="7" text-anchor="end">10</text><line x1="409.80" y1="402.02" x2="412.80" y2="402.02" stroke="#000" stroke-width="1"/><text class="t" x="409.40" y="404.82" font-size="7" text-anchor="end">20</text><line x1="409.80" y1="385.98" x2="412.80" y2="385.98" stroke="#000" stroke-width="1"/><text class="t" x="409.40" y="388.78" font-size="7" text-anchor="end">30</text><line x1="409.80" y1="369.94" x2="412.80" y2="369.94" stroke="#000" stroke-width="1"/><text class="t" x="409.40" y="372.74" font-size="7" text-anchor="end">40</text><line x1="409.80" y1="353.90" x2="412.80" y2="353.90" stroke="#000" stroke-width="1"/><text class="t" x="409.40" y="356.70" font-size="7" text-anchor="end">50</text><line x1="412.80" y1="434.10" x2="412.80" y2="436.70" stroke="#000" stroke-width="1"/><text class="t" x="414.10" y="443.40" font-size="7" text-anchor="middle">10<tspan font-size="6.2" dy="-2.6" style="stroke-width:0.1px">0</tspan></text><line x1="420.42" y1="434.10" x2="420.42" y2="436.40" stroke="#000" stroke-width="0.9"/><line x1="424.87" y1="434.10" x2="424.87" y2="436.40" stroke="#000" stroke-width="0.9"/><line x1="428.03" y1="434.10" x2="428.03" y2="436.40" stroke="#000" stroke-width="0.9"/><line x1="430.48" y1="434.10" x2="430.48" y2="436.40" stroke="#000" stroke-width="0.9"/><line x1="432.49" y1="434.10" x2="432.49" y2="436.40" stroke="#000" stroke-width="0.9"/><line x1="434.18" y1="434.10" x2="434.18" y2="436.40" stroke="#000" stroke-width="0.9"/><line x1="435.65" y1="434.10" x2="435.65" y2="436.40" stroke="#000" stroke-width="0.9"/><line x1="436.94" y1="434.10" x2="436.94" y2="436.40" stroke="#000" stroke-width="0.9"/><line x1="438.10" y1="434.10" x2="438.10" y2="436.70" stroke="#000" stroke-width="1"/><text class="t" x="438.50" y="443.40" font-size="7" text-anchor="middle">10<tspan font-size="6.2" dy="-2.6" style="stroke-width:0.1px">1</tspan></text><line x1="445.72" y1="434.10" x2="445.72" y2="436.40" stroke="#000" stroke-width="0.9"/><line x1="450.17" y1="434.10" x2="450.17" y2="436.40" stroke="#000" stroke-width="0.9"/><line x1="453.33" y1="434.10" x2="453.33" y2="436.40" stroke="#000" stroke-width="0.9"/><line x1="455.78" y1="434.10" x2="455.78" y2="436.40" stroke="#000" stroke-width="0.9"/><line x1="457.79" y1="434.10" x2="457.79" y2="436.40" stroke="#000" stroke-width="0.9"/><line x1="459.48" y1="434.10" x2="459.48" y2="436.40" stroke="#000" stroke-width="0.9"/><line x1="460.95" y1="434.10" x2="460.95" y2="436.40" stroke="#000" stroke-width="0.9"/><line x1="462.24" y1="434.10" x2="462.24" y2="436.40" stroke="#000" stroke-width="0.9"/><line x1="463.40" y1="434.10" x2="463.40" y2="436.70" stroke="#000" stroke-width="1"/><text class="t" x="463.80" y="443.40" font-size="7" text-anchor="middle">10<tspan font-size="6.2" dy="-2.6" style="stroke-width:0.1px">2</tspan></text><line x1="471.02" y1="434.10" x2="471.02" y2="436.40" stroke="#000" stroke-width="0.9"/><line x1="475.47" y1="434.10" x2="475.47" y2="436.40" stroke="#000" stroke-width="0.9"/><line x1="478.63" y1="434.10" x2="478.63" y2="436.40" stroke="#000" stroke-width="0.9"/><line x1="481.08" y1="434.10" x2="481.08" y2="436.40" stroke="#000" stroke-width="0.9"/><line x1="483.09" y1="434.10" x2="483.09" y2="436.40" stroke="#000" stroke-width="0.9"/><line x1="484.78" y1="434.10" x2="484.78" y2="436.40" stroke="#000" stroke-width="0.9"/><line x1="486.25" y1="434.10" x2="486.25" y2="436.40" stroke="#000" stroke-width="0.9"/><line x1="487.54" y1="434.10" x2="487.54" y2="436.40" stroke="#000" stroke-width="0.9"/><line x1="488.70" y1="434.10" x2="488.70" y2="436.70" stroke="#000" stroke-width="1"/><text class="t" x="489.10" y="443.40" font-size="7" text-anchor="middle">10<tspan font-size="6.2" dy="-2.6" style="stroke-width:0.1px">3</tspan></text><line x1="496.32" y1="434.10" x2="496.32" y2="436.40" stroke="#000" stroke-width="0.9"/><line x1="500.77" y1="434.10" x2="500.77" y2="436.40" stroke="#000" stroke-width="0.9"/><line x1="503.93" y1="434.10" x2="503.93" y2="436.40" stroke="#000" stroke-width="0.9"/><line x1="506.38" y1="434.10" x2="506.38" y2="436.40" stroke="#000" stroke-width="0.9"/><line x1="508.39" y1="434.10" x2="508.39" y2="436.40" stroke="#000" stroke-width="0.9"/><line x1="510.08" y1="434.10" x2="510.08" y2="436.40" stroke="#000" stroke-width="0.9"/><line x1="511.55" y1="434.10" x2="511.55" y2="436.40" stroke="#000" stroke-width="0.9"/><line x1="512.84" y1="434.10" x2="512.84" y2="436.40" stroke="#000" stroke-width="0.9"/><line x1="514.00" y1="434.10" x2="514.00" y2="436.70" stroke="#000" stroke-width="1"/><text class="t" x="514.40" y="443.40" font-size="7" text-anchor="middle">10<tspan font-size="6.2" dy="-2.6" style="stroke-width:0.1px">4</tspan></text><text x="463.40" y="453.80" class="b" font-size="7.6" font-weight="bold" text-anchor="middle">Ly-G6 FITC</text></g>
<text x="1.85" y="358.15" font-size="17.2" font-weight="bold">D</text>
</svg>
</body></html>
